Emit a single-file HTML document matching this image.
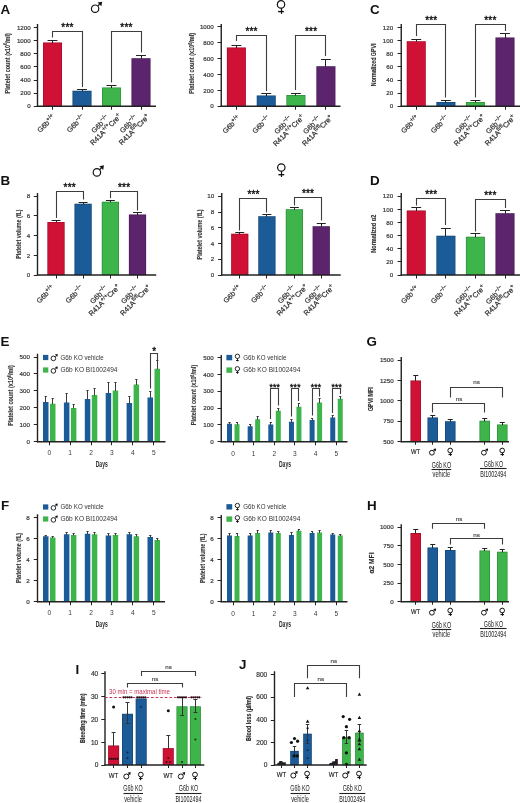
<!DOCTYPE html>
<html><head><meta charset="utf-8"><style>
html,body{margin:0;padding:0;background:#fff;}
svg{display:block;font-family:"Liberation Sans", sans-serif;filter:blur(0.3px);}
</style></head><body>
<svg width="520" height="803" viewBox="0 0 520 803">
<rect x="0" y="0" width="520" height="803" fill="#fff"/>
<line x1="37.50" y1="24.00" x2="37.50" y2="106.85" stroke="#222" stroke-width="1.4" />
<line x1="33.80" y1="106.50" x2="37.50" y2="106.50" stroke="#222" stroke-width="1.0" />
<text x="30.7" y="108.482" font-size="6.2" text-anchor="end" fill="#333" font-weight="normal" stroke="#333" stroke-width="0.18">0</text>
<line x1="33.80" y1="93.50" x2="37.50" y2="93.50" stroke="#222" stroke-width="1.0" />
<text x="30.7" y="95.357" font-size="6.2" text-anchor="end" fill="#333" font-weight="normal" stroke="#333" stroke-width="0.18">200</text>
<line x1="33.80" y1="80.50" x2="37.50" y2="80.50" stroke="#222" stroke-width="1.0" />
<text x="30.7" y="82.232" font-size="6.2" text-anchor="end" fill="#333" font-weight="normal" stroke="#333" stroke-width="0.18">400</text>
<line x1="33.80" y1="66.50" x2="37.50" y2="66.50" stroke="#222" stroke-width="1.0" />
<text x="30.7" y="69.107" font-size="6.2" text-anchor="end" fill="#333" font-weight="normal" stroke="#333" stroke-width="0.18">600</text>
<line x1="33.80" y1="53.50" x2="37.50" y2="53.50" stroke="#222" stroke-width="1.0" />
<text x="30.7" y="55.982" font-size="6.2" text-anchor="end" fill="#333" font-weight="normal" stroke="#333" stroke-width="0.18">800</text>
<line x1="33.80" y1="40.50" x2="37.50" y2="40.50" stroke="#222" stroke-width="1.0" />
<text x="30.7" y="42.857" font-size="6.2" text-anchor="end" fill="#333" font-weight="normal" stroke="#333" stroke-width="0.18">1000</text>
<line x1="33.80" y1="27.50" x2="37.50" y2="27.50" stroke="#222" stroke-width="1.0" />
<text x="30.7" y="29.732" font-size="6.2" text-anchor="end" fill="#333" font-weight="normal" stroke="#333" stroke-width="0.18">1200</text>
<text transform="translate(6.9,63.3) rotate(-90)" x="0" y="2.73" font-size="7.8" text-anchor="middle" fill="#383838" textLength="60.2" lengthAdjust="spacingAndGlyphs" font-weight="bold" stroke="#383838" stroke-width="0.12">Platelet count (x10<tspan font-size="4.8" dy="-2.3">6</tspan><tspan font-size="1" dy="2.3">&#8203;</tspan>/ml)</text>
<circle cx="95.1" cy="8.7" r="3.7" fill="none" stroke="#111" stroke-width="1.2"/>
<line x1="97.72" y1="6.08" x2="99.55" y2="4.25" stroke="#111" stroke-width="1.2" />
<path d="M102.16,1.64 L97.54,2.47 L101.33,6.26 Z" fill="#111"/>
<rect x="43.0" y="42.5" width="19.00" height="63.75" fill="#cf1136" />
<rect x="43.35" y="42.85" width="18.30" height="63.40" fill="none" stroke="#000" stroke-opacity="0.22" stroke-width="0.7"/>
<line x1="52.50" y1="40.00" x2="52.50" y2="43.00" stroke="#222" stroke-width="1.0" />
<line x1="47.56" y1="40.50" x2="57.44" y2="40.50" stroke="#222" stroke-width="1.0" />
<rect x="72.5" y="90.75" width="19.00" height="15.50" fill="#1b5b98" />
<rect x="72.85" y="91.10" width="18.30" height="15.15" fill="none" stroke="#000" stroke-opacity="0.22" stroke-width="0.7"/>
<line x1="82.50" y1="89.00" x2="82.50" y2="91.25" stroke="#222" stroke-width="1.0" />
<line x1="77.06" y1="89.50" x2="86.94" y2="89.50" stroke="#222" stroke-width="1.0" />
<rect x="102.0" y="87.5" width="19.00" height="18.75" fill="#3db54a" />
<rect x="102.35" y="87.85" width="18.30" height="18.40" fill="none" stroke="#000" stroke-opacity="0.22" stroke-width="0.7"/>
<line x1="111.50" y1="85.50" x2="111.50" y2="88.00" stroke="#222" stroke-width="1.0" />
<line x1="106.56" y1="85.50" x2="116.44" y2="85.50" stroke="#222" stroke-width="1.0" />
<rect x="131.5" y="58.25" width="19.00" height="48.00" fill="#5c246c" />
<rect x="131.85" y="58.60" width="18.30" height="47.65" fill="none" stroke="#000" stroke-opacity="0.22" stroke-width="0.7"/>
<line x1="141.50" y1="55.50" x2="141.50" y2="58.75" stroke="#222" stroke-width="1.0" />
<line x1="136.06" y1="55.50" x2="145.94" y2="55.50" stroke="#222" stroke-width="1.0" />
<line x1="36.90" y1="106.25" x2="156.00" y2="106.25" stroke="#222" stroke-width="1.4" />
<line x1="52.50" y1="106.25" x2="52.50" y2="109.75" stroke="#222" stroke-width="1.0" />
<line x1="82.50" y1="106.25" x2="82.50" y2="109.75" stroke="#222" stroke-width="1.0" />
<line x1="111.50" y1="106.25" x2="111.50" y2="109.75" stroke="#222" stroke-width="1.0" />
<line x1="141.50" y1="106.25" x2="141.50" y2="109.75" stroke="#222" stroke-width="1.0" />
<path d="M52.5,37.5 L52.5,31.5 L82.5,31.5 L82.5,87" fill="none" stroke="#3c3c3c" stroke-width="1.1"/>
<text x="67.45" y="30.85" font-size="10" text-anchor="middle" fill="#111" font-weight="normal" font-weight="bold" letter-spacing="0.2" stroke="#111" stroke-width="0.35">***</text>
<path d="M111.5,82.5 L111.5,31.5 L141.5,31.5 L141.5,52.5" fill="none" stroke="#3c3c3c" stroke-width="1.1"/>
<text x="126.45" y="30.85" font-size="10" text-anchor="middle" fill="#111" font-weight="normal" font-weight="bold" letter-spacing="0.2" stroke="#111" stroke-width="0.35">***</text>
<g transform="translate(53.83,115.90) rotate(-45)">
<text x="0" y="2.59" font-size="7.2" text-anchor="end" fill="#2e2e2e" stroke="#2e2e2e" stroke-width="0.22">G6b<tspan font-size="5.6" dy="-2.9">+/+</tspan><tspan font-size="1" dy="2.9">&#8203;</tspan></text>
</g>
<g transform="translate(83.33,115.90) rotate(-45)">
<text x="0" y="2.59" font-size="7.2" text-anchor="end" fill="#2e2e2e" stroke="#2e2e2e" stroke-width="0.22">G6b<tspan font-size="5.6" dy="-2.9">&#8722;/&#8722;</tspan><tspan font-size="1" dy="2.9">&#8203;</tspan></text>
</g>
<g transform="translate(116.33,113.30) rotate(-45)">
<text x="-19.00" y="-1.31" font-size="7.2" text-anchor="middle" fill="#2e2e2e" stroke="#2e2e2e" stroke-width="0.22">G6b<tspan font-size="5.6" dy="-2.9">&#8722;/&#8722;</tspan><tspan font-size="1" dy="2.9">&#8203;</tspan></text>
<text x="-19.00" y="6.49" font-size="7.2" text-anchor="middle" fill="#2e2e2e" stroke="#2e2e2e" stroke-width="0.22">R41A<tspan font-size="5.6" dy="-2.9">+/+</tspan><tspan font-size="1" dy="2.9">&#8203;</tspan>Cre<tspan font-size="5.6" dy="-2.9">+</tspan><tspan font-size="1" dy="2.9">&#8203;</tspan></text>
</g>
<g transform="translate(144.83,113.30) rotate(-45)">
<text x="-19.00" y="-1.31" font-size="7.2" text-anchor="middle" fill="#2e2e2e" stroke="#2e2e2e" stroke-width="0.22">G6b<tspan font-size="5.6" dy="-2.9">&#8722;/&#8722;</tspan><tspan font-size="1" dy="2.9">&#8203;</tspan></text>
<text x="-19.00" y="6.49" font-size="7.2" text-anchor="middle" fill="#2e2e2e" stroke="#2e2e2e" stroke-width="0.22">R41A<tspan font-size="5.6" dy="-2.9">fl/fl</tspan><tspan font-size="1" dy="2.9">&#8203;</tspan>Cre<tspan font-size="5.6" dy="-2.9">+</tspan><tspan font-size="1" dy="2.9">&#8203;</tspan></text>
</g>
<line x1="221.25" y1="24.00" x2="221.25" y2="106.85" stroke="#222" stroke-width="1.4" />
<line x1="217.55" y1="106.50" x2="221.25" y2="106.50" stroke="#222" stroke-width="1.0" />
<text x="213.7" y="108.482" font-size="6.2" text-anchor="end" fill="#333" font-weight="normal" stroke="#333" stroke-width="0.18">0</text>
<line x1="217.55" y1="90.50" x2="221.25" y2="90.50" stroke="#222" stroke-width="1.0" />
<text x="213.7" y="92.582" font-size="6.2" text-anchor="end" fill="#333" font-weight="normal" stroke="#333" stroke-width="0.18">200</text>
<line x1="217.55" y1="74.50" x2="221.25" y2="74.50" stroke="#222" stroke-width="1.0" />
<text x="213.7" y="76.682" font-size="6.2" text-anchor="end" fill="#333" font-weight="normal" stroke="#333" stroke-width="0.18">400</text>
<line x1="217.55" y1="58.50" x2="221.25" y2="58.50" stroke="#222" stroke-width="1.0" />
<text x="213.7" y="60.782" font-size="6.2" text-anchor="end" fill="#333" font-weight="normal" stroke="#333" stroke-width="0.18">600</text>
<line x1="217.55" y1="42.50" x2="221.25" y2="42.50" stroke="#222" stroke-width="1.0" />
<text x="213.7" y="44.882" font-size="6.2" text-anchor="end" fill="#333" font-weight="normal" stroke="#333" stroke-width="0.18">800</text>
<line x1="217.55" y1="26.50" x2="221.25" y2="26.50" stroke="#222" stroke-width="1.0" />
<text x="213.7" y="28.982" font-size="6.2" text-anchor="end" fill="#333" font-weight="normal" stroke="#333" stroke-width="0.18">1000</text>
<text transform="translate(191.4,63.3) rotate(-90)" x="0" y="2.73" font-size="7.8" text-anchor="middle" fill="#383838" textLength="61" lengthAdjust="spacingAndGlyphs" font-weight="bold" stroke="#383838" stroke-width="0.12">Platelet count (x10<tspan font-size="4.8" dy="-2.3">6</tspan><tspan font-size="1" dy="2.3">&#8203;</tspan>/ml)</text>
<circle cx="281" cy="4.4" r="3.7" fill="none" stroke="#111" stroke-width="1.2"/>
<line x1="281.50" y1="8.10" x2="281.50" y2="13.90" stroke="#111" stroke-width="1.2" />
<line x1="278.10" y1="11.58" x2="283.90" y2="11.58" stroke="#111" stroke-width="1.38" />
<rect x="226.9" y="47.5" width="19.00" height="58.75" fill="#cf1136" />
<rect x="227.25" y="47.85" width="18.30" height="58.40" fill="none" stroke="#000" stroke-opacity="0.22" stroke-width="0.7"/>
<line x1="236.50" y1="45.00" x2="236.50" y2="48.00" stroke="#222" stroke-width="1.0" />
<line x1="231.46" y1="45.50" x2="241.34" y2="45.50" stroke="#222" stroke-width="1.0" />
<rect x="256.75" y="95.5" width="19.00" height="10.75" fill="#1b5b98" />
<rect x="257.10" y="95.85" width="18.30" height="10.40" fill="none" stroke="#000" stroke-opacity="0.22" stroke-width="0.7"/>
<line x1="266.50" y1="93.50" x2="266.50" y2="96.00" stroke="#222" stroke-width="1.0" />
<line x1="261.31" y1="93.50" x2="271.19" y2="93.50" stroke="#222" stroke-width="1.0" />
<rect x="286.4" y="95" width="19.00" height="11.25" fill="#3db54a" />
<rect x="286.75" y="95.35" width="18.30" height="10.90" fill="none" stroke="#000" stroke-opacity="0.22" stroke-width="0.7"/>
<line x1="295.50" y1="93.00" x2="295.50" y2="95.50" stroke="#222" stroke-width="1.0" />
<line x1="290.96" y1="93.50" x2="300.84" y2="93.50" stroke="#222" stroke-width="1.0" />
<rect x="316.4" y="66.25" width="19.00" height="40.00" fill="#5c246c" />
<rect x="316.75" y="66.60" width="18.30" height="39.65" fill="none" stroke="#000" stroke-opacity="0.22" stroke-width="0.7"/>
<line x1="325.50" y1="59.50" x2="325.50" y2="66.75" stroke="#222" stroke-width="1.0" />
<line x1="320.96" y1="59.50" x2="330.84" y2="59.50" stroke="#222" stroke-width="1.0" />
<line x1="220.65" y1="106.25" x2="340.50" y2="106.25" stroke="#222" stroke-width="1.4" />
<line x1="236.50" y1="106.25" x2="236.50" y2="109.75" stroke="#222" stroke-width="1.0" />
<line x1="266.50" y1="106.25" x2="266.50" y2="109.75" stroke="#222" stroke-width="1.0" />
<line x1="295.50" y1="106.25" x2="295.50" y2="109.75" stroke="#222" stroke-width="1.0" />
<line x1="325.50" y1="106.25" x2="325.50" y2="109.75" stroke="#222" stroke-width="1.0" />
<path d="M236.5,41 L236.5,35.5 L266.5,35.5 L266.5,91" fill="none" stroke="#3c3c3c" stroke-width="1.1"/>
<text x="251.52499999999998" y="35.1" font-size="10" text-anchor="middle" fill="#111" font-weight="normal" font-weight="bold" letter-spacing="0.2" stroke="#111" stroke-width="0.35">***</text>
<path d="M295.5,90 L295.5,35.5 L325.5,35.5 L325.5,56" fill="none" stroke="#3c3c3c" stroke-width="1.1"/>
<text x="311.09999999999997" y="35.1" font-size="10" text-anchor="middle" fill="#111" font-weight="normal" font-weight="bold" letter-spacing="0.2" stroke="#111" stroke-width="0.35">***</text>
<g transform="translate(238.93,116.90) rotate(-45)">
<text x="0" y="2.59" font-size="7.2" text-anchor="end" fill="#2e2e2e" stroke="#2e2e2e" stroke-width="0.22">G6b<tspan font-size="5.6" dy="-2.9">+/+</tspan><tspan font-size="1" dy="2.9">&#8203;</tspan></text>
</g>
<g transform="translate(268.83,116.90) rotate(-45)">
<text x="0" y="2.59" font-size="7.2" text-anchor="end" fill="#2e2e2e" stroke="#2e2e2e" stroke-width="0.22">G6b<tspan font-size="5.6" dy="-2.9">&#8722;/&#8722;</tspan><tspan font-size="1" dy="2.9">&#8203;</tspan></text>
</g>
<g transform="translate(299.23,114.30) rotate(-45)">
<text x="-19.00" y="-1.31" font-size="7.2" text-anchor="middle" fill="#2e2e2e" stroke="#2e2e2e" stroke-width="0.22">G6b<tspan font-size="5.6" dy="-2.9">&#8722;/&#8722;</tspan><tspan font-size="1" dy="2.9">&#8203;</tspan></text>
<text x="-19.00" y="6.49" font-size="7.2" text-anchor="middle" fill="#2e2e2e" stroke="#2e2e2e" stroke-width="0.22">R41A<tspan font-size="5.6" dy="-2.9">+/+</tspan><tspan font-size="1" dy="2.9">&#8203;</tspan>Cre<tspan font-size="5.6" dy="-2.9">+</tspan><tspan font-size="1" dy="2.9">&#8203;</tspan></text>
</g>
<g transform="translate(328.03,114.30) rotate(-45)">
<text x="-19.00" y="-1.31" font-size="7.2" text-anchor="middle" fill="#2e2e2e" stroke="#2e2e2e" stroke-width="0.22">G6b<tspan font-size="5.6" dy="-2.9">&#8722;/&#8722;</tspan><tspan font-size="1" dy="2.9">&#8203;</tspan></text>
<text x="-19.00" y="6.49" font-size="7.2" text-anchor="middle" fill="#2e2e2e" stroke="#2e2e2e" stroke-width="0.22">R41A<tspan font-size="5.6" dy="-2.9">fl/fl</tspan><tspan font-size="1" dy="2.9">&#8203;</tspan>Cre<tspan font-size="5.6" dy="-2.9">+</tspan><tspan font-size="1" dy="2.9">&#8203;</tspan></text>
</g>
<line x1="401.25" y1="24.00" x2="401.25" y2="106.85" stroke="#222" stroke-width="1.4" />
<line x1="397.55" y1="106.50" x2="401.25" y2="106.50" stroke="#222" stroke-width="1.0" />
<text x="393.2" y="108.482" font-size="6.2" text-anchor="end" fill="#333" font-weight="normal" stroke="#333" stroke-width="0.18">0</text>
<line x1="397.55" y1="93.50" x2="401.25" y2="93.50" stroke="#222" stroke-width="1.0" />
<text x="393.2" y="95.357" font-size="6.2" text-anchor="end" fill="#333" font-weight="normal" stroke="#333" stroke-width="0.18">20</text>
<line x1="397.55" y1="80.50" x2="401.25" y2="80.50" stroke="#222" stroke-width="1.0" />
<text x="393.2" y="82.232" font-size="6.2" text-anchor="end" fill="#333" font-weight="normal" stroke="#333" stroke-width="0.18">40</text>
<line x1="397.55" y1="66.50" x2="401.25" y2="66.50" stroke="#222" stroke-width="1.0" />
<text x="393.2" y="69.107" font-size="6.2" text-anchor="end" fill="#333" font-weight="normal" stroke="#333" stroke-width="0.18">60</text>
<line x1="397.55" y1="53.50" x2="401.25" y2="53.50" stroke="#222" stroke-width="1.0" />
<text x="393.2" y="55.982" font-size="6.2" text-anchor="end" fill="#333" font-weight="normal" stroke="#333" stroke-width="0.18">80</text>
<line x1="397.55" y1="40.50" x2="401.25" y2="40.50" stroke="#222" stroke-width="1.0" />
<text x="393.2" y="42.857" font-size="6.2" text-anchor="end" fill="#333" font-weight="normal" stroke="#333" stroke-width="0.18">100</text>
<line x1="397.55" y1="27.50" x2="401.25" y2="27.50" stroke="#222" stroke-width="1.0" />
<text x="393.2" y="29.732" font-size="6.2" text-anchor="end" fill="#333" font-weight="normal" stroke="#333" stroke-width="0.18">120</text>
<text transform="translate(374.0,64.85) rotate(-90)" x="0" y="2.45" font-size="7.0" text-anchor="middle" fill="#303030" textLength="42.7" lengthAdjust="spacingAndGlyphs" font-weight="bold" stroke="#303030" stroke-width="0.12">Normalized GPVI</text>
<rect x="406.75" y="41.25" width="19.00" height="65.00" fill="#cf1136" />
<rect x="407.10" y="41.60" width="18.30" height="64.65" fill="none" stroke="#000" stroke-opacity="0.22" stroke-width="0.7"/>
<line x1="416.50" y1="39.25" x2="416.50" y2="41.75" stroke="#222" stroke-width="1.0" />
<line x1="411.31" y1="39.50" x2="421.19" y2="39.50" stroke="#222" stroke-width="1.0" />
<rect x="436.4" y="102" width="19.00" height="4.25" fill="#1b5b98" />
<rect x="436.75" y="102.35" width="18.30" height="3.90" fill="none" stroke="#000" stroke-opacity="0.22" stroke-width="0.7"/>
<line x1="445.50" y1="100.00" x2="445.50" y2="102.50" stroke="#222" stroke-width="1.0" />
<line x1="440.96" y1="100.50" x2="450.84" y2="100.50" stroke="#222" stroke-width="1.0" />
<rect x="465.9" y="102" width="19.00" height="4.25" fill="#3db54a" />
<rect x="466.25" y="102.35" width="18.30" height="3.90" fill="none" stroke="#000" stroke-opacity="0.22" stroke-width="0.7"/>
<line x1="475.50" y1="100.75" x2="475.50" y2="102.50" stroke="#222" stroke-width="1.0" />
<line x1="470.46" y1="100.50" x2="480.34" y2="100.50" stroke="#222" stroke-width="1.0" />
<rect x="495.5" y="37.5" width="19.00" height="68.75" fill="#5c246c" />
<rect x="495.85" y="37.85" width="18.30" height="68.40" fill="none" stroke="#000" stroke-opacity="0.22" stroke-width="0.7"/>
<line x1="505.50" y1="33.75" x2="505.50" y2="38.00" stroke="#222" stroke-width="1.0" />
<line x1="500.06" y1="33.50" x2="509.94" y2="33.50" stroke="#222" stroke-width="1.0" />
<line x1="400.65" y1="106.25" x2="520.00" y2="106.25" stroke="#222" stroke-width="1.4" />
<line x1="416.50" y1="106.25" x2="416.50" y2="109.75" stroke="#222" stroke-width="1.0" />
<line x1="445.50" y1="106.25" x2="445.50" y2="109.75" stroke="#222" stroke-width="1.0" />
<line x1="475.50" y1="106.25" x2="475.50" y2="109.75" stroke="#222" stroke-width="1.0" />
<line x1="505.50" y1="106.25" x2="505.50" y2="109.75" stroke="#222" stroke-width="1.0" />
<path d="M416.5,36 L416.5,24.5 L445.5,24.5 L445.5,97.5" fill="none" stroke="#3c3c3c" stroke-width="1.1"/>
<text x="431.275" y="23.85" font-size="10" text-anchor="middle" fill="#111" font-weight="normal" font-weight="bold" letter-spacing="0.2" stroke="#111" stroke-width="0.35">***</text>
<path d="M475.5,97.5 L475.5,24.5 L505.5,24.5 L505.5,31" fill="none" stroke="#3c3c3c" stroke-width="1.1"/>
<text x="490.4" y="23.85" font-size="10" text-anchor="middle" fill="#111" font-weight="normal" font-weight="bold" letter-spacing="0.2" stroke="#111" stroke-width="0.35">***</text>
<g transform="translate(417.58,116.60) rotate(-45)">
<text x="0" y="2.59" font-size="7.2" text-anchor="end" fill="#2e2e2e" stroke="#2e2e2e" stroke-width="0.22">G6b<tspan font-size="5.6" dy="-2.9">+/+</tspan><tspan font-size="1" dy="2.9">&#8203;</tspan></text>
</g>
<g transform="translate(447.23,116.60) rotate(-45)">
<text x="0" y="2.59" font-size="7.2" text-anchor="end" fill="#2e2e2e" stroke="#2e2e2e" stroke-width="0.22">G6b<tspan font-size="5.6" dy="-2.9">&#8722;/&#8722;</tspan><tspan font-size="1" dy="2.9">&#8203;</tspan></text>
</g>
<g transform="translate(480.03,114.00) rotate(-45)">
<text x="-19.00" y="-1.31" font-size="7.2" text-anchor="middle" fill="#2e2e2e" stroke="#2e2e2e" stroke-width="0.22">G6b<tspan font-size="5.6" dy="-2.9">&#8722;/&#8722;</tspan><tspan font-size="1" dy="2.9">&#8203;</tspan></text>
<text x="-19.00" y="6.49" font-size="7.2" text-anchor="middle" fill="#2e2e2e" stroke="#2e2e2e" stroke-width="0.22">R41A<tspan font-size="5.6" dy="-2.9">+/+</tspan><tspan font-size="1" dy="2.9">&#8203;</tspan>Cre<tspan font-size="5.6" dy="-2.9">+</tspan><tspan font-size="1" dy="2.9">&#8203;</tspan></text>
</g>
<g transform="translate(510.83,114.00) rotate(-45)">
<text x="-19.00" y="-1.31" font-size="7.2" text-anchor="middle" fill="#2e2e2e" stroke="#2e2e2e" stroke-width="0.22">G6b<tspan font-size="5.6" dy="-2.9">&#8722;/&#8722;</tspan><tspan font-size="1" dy="2.9">&#8203;</tspan></text>
<text x="-19.00" y="6.49" font-size="7.2" text-anchor="middle" fill="#2e2e2e" stroke="#2e2e2e" stroke-width="0.22">R41A<tspan font-size="5.6" dy="-2.9">fl/fl</tspan><tspan font-size="1" dy="2.9">&#8203;</tspan>Cre<tspan font-size="5.6" dy="-2.9">+</tspan><tspan font-size="1" dy="2.9">&#8203;</tspan></text>
</g>
<line x1="37.50" y1="193.00" x2="37.50" y2="275.60" stroke="#222" stroke-width="1.4" />
<line x1="33.80" y1="275.50" x2="37.50" y2="275.50" stroke="#222" stroke-width="1.0" />
<text x="30.2" y="277.232" font-size="6.2" text-anchor="end" fill="#333" font-weight="normal" stroke="#333" stroke-width="0.18">0</text>
<line x1="33.80" y1="255.50" x2="37.50" y2="255.50" stroke="#222" stroke-width="1.0" />
<text x="30.2" y="257.54200000000003" font-size="6.2" text-anchor="end" fill="#333" font-weight="normal" stroke="#333" stroke-width="0.18">2</text>
<line x1="33.80" y1="235.50" x2="37.50" y2="235.50" stroke="#222" stroke-width="1.0" />
<text x="30.2" y="237.852" font-size="6.2" text-anchor="end" fill="#333" font-weight="normal" stroke="#333" stroke-width="0.18">4</text>
<line x1="33.80" y1="215.50" x2="37.50" y2="215.50" stroke="#222" stroke-width="1.0" />
<text x="30.2" y="218.162" font-size="6.2" text-anchor="end" fill="#333" font-weight="normal" stroke="#333" stroke-width="0.18">6</text>
<line x1="33.80" y1="196.50" x2="37.50" y2="196.50" stroke="#222" stroke-width="1.0" />
<text x="30.2" y="198.472" font-size="6.2" text-anchor="end" fill="#333" font-weight="normal" stroke="#333" stroke-width="0.18">8</text>
<text transform="translate(18.1,234.1) rotate(-90)" x="0" y="2.73" font-size="7.8" text-anchor="middle" fill="#383838" textLength="49.4" lengthAdjust="spacingAndGlyphs" font-weight="bold" stroke="#383838" stroke-width="0.12">Platelet volume (fL)</text>
<circle cx="96.9" cy="172.4" r="3.7" fill="none" stroke="#111" stroke-width="1.2"/>
<line x1="99.52" y1="169.78" x2="101.35" y2="167.95" stroke="#111" stroke-width="1.2" />
<path d="M103.96,165.34 L99.34,166.17 L103.13,169.96 Z" fill="#111"/>
<rect x="47.4" y="222" width="17.20" height="53.00" fill="#cf1136" />
<rect x="47.75" y="222.35" width="16.50" height="52.65" fill="none" stroke="#000" stroke-opacity="0.22" stroke-width="0.7"/>
<line x1="56.50" y1="220.50" x2="56.50" y2="222.50" stroke="#222" stroke-width="1.0" />
<line x1="51.53" y1="220.50" x2="60.47" y2="220.50" stroke="#222" stroke-width="1.0" />
<rect x="74.5" y="203.75" width="17.20" height="71.25" fill="#1b5b98" />
<rect x="74.85" y="204.10" width="16.50" height="70.90" fill="none" stroke="#000" stroke-opacity="0.22" stroke-width="0.7"/>
<line x1="83.50" y1="202.00" x2="83.50" y2="204.25" stroke="#222" stroke-width="1.0" />
<line x1="78.63" y1="202.50" x2="87.57" y2="202.50" stroke="#222" stroke-width="1.0" />
<rect x="101.80000000000001" y="201.75" width="17.20" height="73.25" fill="#3db54a" />
<rect x="102.15" y="202.10" width="16.50" height="72.90" fill="none" stroke="#000" stroke-opacity="0.22" stroke-width="0.7"/>
<line x1="110.50" y1="200.50" x2="110.50" y2="202.25" stroke="#222" stroke-width="1.0" />
<line x1="105.93" y1="200.50" x2="114.87" y2="200.50" stroke="#222" stroke-width="1.0" />
<rect x="128.9" y="214.5" width="17.20" height="60.50" fill="#5c246c" />
<rect x="129.25" y="214.85" width="16.50" height="60.15" fill="none" stroke="#000" stroke-opacity="0.22" stroke-width="0.7"/>
<line x1="137.50" y1="212.50" x2="137.50" y2="215.00" stroke="#222" stroke-width="1.0" />
<line x1="133.03" y1="212.50" x2="141.97" y2="212.50" stroke="#222" stroke-width="1.0" />
<line x1="36.90" y1="275.00" x2="156.25" y2="275.00" stroke="#222" stroke-width="1.4" />
<line x1="56.50" y1="275.00" x2="56.50" y2="278.50" stroke="#222" stroke-width="1.0" />
<line x1="83.50" y1="275.00" x2="83.50" y2="278.50" stroke="#222" stroke-width="1.0" />
<line x1="110.50" y1="275.00" x2="110.50" y2="278.50" stroke="#222" stroke-width="1.0" />
<line x1="137.50" y1="275.00" x2="137.50" y2="278.50" stroke="#222" stroke-width="1.0" />
<path d="M56.5,218 L56.5,191.5 L83.5,191.5 L83.5,199.5" fill="none" stroke="#3c3c3c" stroke-width="1.1"/>
<text x="69.75" y="190.85" font-size="10" text-anchor="middle" fill="#111" font-weight="normal" font-weight="bold" letter-spacing="0.2" stroke="#111" stroke-width="0.35">***</text>
<path d="M110.5,198 L110.5,191.5 L137.5,191.5 L137.5,210.5" fill="none" stroke="#3c3c3c" stroke-width="1.1"/>
<text x="124.15" y="190.85" font-size="10" text-anchor="middle" fill="#111" font-weight="normal" font-weight="bold" letter-spacing="0.2" stroke="#111" stroke-width="0.35">***</text>
<g transform="translate(52.93,286.65) rotate(-45)">
<text x="0" y="2.59" font-size="7.2" text-anchor="end" fill="#2e2e2e" stroke="#2e2e2e" stroke-width="0.22">G6b<tspan font-size="5.6" dy="-2.9">+/+</tspan><tspan font-size="1" dy="2.9">&#8203;</tspan></text>
</g>
<g transform="translate(81.93,286.65) rotate(-45)">
<text x="0" y="2.59" font-size="7.2" text-anchor="end" fill="#2e2e2e" stroke="#2e2e2e" stroke-width="0.22">G6b<tspan font-size="5.6" dy="-2.9">&#8722;/&#8722;</tspan><tspan font-size="1" dy="2.9">&#8203;</tspan></text>
</g>
<g transform="translate(114.93,284.05) rotate(-45)">
<text x="-19.00" y="-1.31" font-size="7.2" text-anchor="middle" fill="#2e2e2e" stroke="#2e2e2e" stroke-width="0.22">G6b<tspan font-size="5.6" dy="-2.9">&#8722;/&#8722;</tspan><tspan font-size="1" dy="2.9">&#8203;</tspan></text>
<text x="-19.00" y="6.49" font-size="7.2" text-anchor="middle" fill="#2e2e2e" stroke="#2e2e2e" stroke-width="0.22">R41A<tspan font-size="5.6" dy="-2.9">+/+</tspan><tspan font-size="1" dy="2.9">&#8203;</tspan>Cre<tspan font-size="5.6" dy="-2.9">+</tspan><tspan font-size="1" dy="2.9">&#8203;</tspan></text>
</g>
<g transform="translate(146.03,284.05) rotate(-45)">
<text x="-19.00" y="-1.31" font-size="7.2" text-anchor="middle" fill="#2e2e2e" stroke="#2e2e2e" stroke-width="0.22">G6b<tspan font-size="5.6" dy="-2.9">&#8722;/&#8722;</tspan><tspan font-size="1" dy="2.9">&#8203;</tspan></text>
<text x="-19.00" y="6.49" font-size="7.2" text-anchor="middle" fill="#2e2e2e" stroke="#2e2e2e" stroke-width="0.22">R41A<tspan font-size="5.6" dy="-2.9">fl/fl</tspan><tspan font-size="1" dy="2.9">&#8203;</tspan>Cre<tspan font-size="5.6" dy="-2.9">+</tspan><tspan font-size="1" dy="2.9">&#8203;</tspan></text>
</g>
<line x1="221.75" y1="193.00" x2="221.75" y2="275.60" stroke="#222" stroke-width="1.4" />
<line x1="218.05" y1="275.50" x2="221.75" y2="275.50" stroke="#222" stroke-width="1.0" />
<text x="214.2" y="277.232" font-size="6.2" text-anchor="end" fill="#333" font-weight="normal" stroke="#333" stroke-width="0.18">0</text>
<line x1="218.05" y1="259.50" x2="221.75" y2="259.50" stroke="#222" stroke-width="1.0" />
<text x="214.2" y="261.482" font-size="6.2" text-anchor="end" fill="#333" font-weight="normal" stroke="#333" stroke-width="0.18">2</text>
<line x1="218.05" y1="243.50" x2="221.75" y2="243.50" stroke="#222" stroke-width="1.0" />
<text x="214.2" y="245.732" font-size="6.2" text-anchor="end" fill="#333" font-weight="normal" stroke="#333" stroke-width="0.18">4</text>
<line x1="218.05" y1="227.50" x2="221.75" y2="227.50" stroke="#222" stroke-width="1.0" />
<text x="214.2" y="229.982" font-size="6.2" text-anchor="end" fill="#333" font-weight="normal" stroke="#333" stroke-width="0.18">6</text>
<line x1="218.05" y1="212.50" x2="221.75" y2="212.50" stroke="#222" stroke-width="1.0" />
<text x="214.2" y="214.232" font-size="6.2" text-anchor="end" fill="#333" font-weight="normal" stroke="#333" stroke-width="0.18">8</text>
<line x1="218.05" y1="196.50" x2="221.75" y2="196.50" stroke="#222" stroke-width="1.0" />
<text x="214.2" y="198.482" font-size="6.2" text-anchor="end" fill="#333" font-weight="normal" stroke="#333" stroke-width="0.18">10</text>
<text transform="translate(198.8,234.4) rotate(-90)" x="0" y="2.73" font-size="7.8" text-anchor="middle" fill="#383838" textLength="50" lengthAdjust="spacingAndGlyphs" font-weight="bold" stroke="#383838" stroke-width="0.12">Platelet volume (fL)</text>
<circle cx="281.3" cy="167.5" r="3.7" fill="none" stroke="#111" stroke-width="1.2"/>
<line x1="281.50" y1="171.20" x2="281.50" y2="177.00" stroke="#111" stroke-width="1.2" />
<line x1="278.40" y1="174.68" x2="284.20" y2="174.68" stroke="#111" stroke-width="1.38" />
<rect x="231.15" y="233.75" width="17.20" height="41.25" fill="#cf1136" />
<rect x="231.50" y="234.10" width="16.50" height="40.90" fill="none" stroke="#000" stroke-opacity="0.22" stroke-width="0.7"/>
<line x1="239.50" y1="232.50" x2="239.50" y2="234.25" stroke="#222" stroke-width="1.0" />
<line x1="235.28" y1="232.50" x2="244.22" y2="232.50" stroke="#222" stroke-width="1.0" />
<rect x="258.29999999999995" y="216.25" width="17.20" height="58.75" fill="#1b5b98" />
<rect x="258.65" y="216.60" width="16.50" height="58.40" fill="none" stroke="#000" stroke-opacity="0.22" stroke-width="0.7"/>
<line x1="266.50" y1="214.50" x2="266.50" y2="216.75" stroke="#222" stroke-width="1.0" />
<line x1="262.43" y1="214.50" x2="271.37" y2="214.50" stroke="#222" stroke-width="1.0" />
<rect x="285.79999999999995" y="209.25" width="17.20" height="65.75" fill="#3db54a" />
<rect x="286.15" y="209.60" width="16.50" height="65.40" fill="none" stroke="#000" stroke-opacity="0.22" stroke-width="0.7"/>
<line x1="294.50" y1="207.50" x2="294.50" y2="209.75" stroke="#222" stroke-width="1.0" />
<line x1="289.93" y1="207.50" x2="298.87" y2="207.50" stroke="#222" stroke-width="1.0" />
<rect x="312.65" y="226.25" width="17.20" height="48.75" fill="#5c246c" />
<rect x="313.00" y="226.60" width="16.50" height="48.40" fill="none" stroke="#000" stroke-opacity="0.22" stroke-width="0.7"/>
<line x1="321.50" y1="223.00" x2="321.50" y2="226.75" stroke="#222" stroke-width="1.0" />
<line x1="316.78" y1="223.50" x2="325.72" y2="223.50" stroke="#222" stroke-width="1.0" />
<line x1="221.15" y1="275.00" x2="340.75" y2="275.00" stroke="#222" stroke-width="1.4" />
<line x1="239.50" y1="275.00" x2="239.50" y2="278.50" stroke="#222" stroke-width="1.0" />
<line x1="266.50" y1="275.00" x2="266.50" y2="278.50" stroke="#222" stroke-width="1.0" />
<line x1="294.50" y1="275.00" x2="294.50" y2="278.50" stroke="#222" stroke-width="1.0" />
<line x1="321.50" y1="275.00" x2="321.50" y2="278.50" stroke="#222" stroke-width="1.0" />
<path d="M239.5,230.5 L239.5,198.5 L266.5,198.5 L266.5,212.5" fill="none" stroke="#3c3c3c" stroke-width="1.1"/>
<text x="253.52499999999998" y="197.6" font-size="10" text-anchor="middle" fill="#111" font-weight="normal" font-weight="bold" letter-spacing="0.2" stroke="#111" stroke-width="0.35">***</text>
<path d="M294.5,205.5 L294.5,197.5 L321.5,197.5 L321.5,220.5" fill="none" stroke="#3c3c3c" stroke-width="1.1"/>
<text x="308.025" y="197.1" font-size="10" text-anchor="middle" fill="#111" font-weight="normal" font-weight="bold" letter-spacing="0.2" stroke="#111" stroke-width="0.35">***</text>
<g transform="translate(239.83,286.45) rotate(-45)">
<text x="0" y="2.59" font-size="7.2" text-anchor="end" fill="#2e2e2e" stroke="#2e2e2e" stroke-width="0.22">G6b<tspan font-size="5.6" dy="-2.9">+/+</tspan><tspan font-size="1" dy="2.9">&#8203;</tspan></text>
</g>
<g transform="translate(267.53,286.45) rotate(-45)">
<text x="0" y="2.59" font-size="7.2" text-anchor="end" fill="#2e2e2e" stroke="#2e2e2e" stroke-width="0.22">G6b<tspan font-size="5.6" dy="-2.9">&#8722;/&#8722;</tspan><tspan font-size="1" dy="2.9">&#8203;</tspan></text>
</g>
<g transform="translate(302.73,283.85) rotate(-45)">
<text x="-19.00" y="-1.31" font-size="7.2" text-anchor="middle" fill="#2e2e2e" stroke="#2e2e2e" stroke-width="0.22">G6b<tspan font-size="5.6" dy="-2.9">&#8722;/&#8722;</tspan><tspan font-size="1" dy="2.9">&#8203;</tspan></text>
<text x="-19.00" y="6.49" font-size="7.2" text-anchor="middle" fill="#2e2e2e" stroke="#2e2e2e" stroke-width="0.22">R41A<tspan font-size="5.6" dy="-2.9">+/+</tspan><tspan font-size="1" dy="2.9">&#8203;</tspan>Cre<tspan font-size="5.6" dy="-2.9">+</tspan><tspan font-size="1" dy="2.9">&#8203;</tspan></text>
</g>
<g transform="translate(329.53,283.85) rotate(-45)">
<text x="-19.00" y="-1.31" font-size="7.2" text-anchor="middle" fill="#2e2e2e" stroke="#2e2e2e" stroke-width="0.22">G6b<tspan font-size="5.6" dy="-2.9">&#8722;/&#8722;</tspan><tspan font-size="1" dy="2.9">&#8203;</tspan></text>
<text x="-19.00" y="6.49" font-size="7.2" text-anchor="middle" fill="#2e2e2e" stroke="#2e2e2e" stroke-width="0.22">R41A<tspan font-size="5.6" dy="-2.9">fl/fl</tspan><tspan font-size="1" dy="2.9">&#8203;</tspan>Cre<tspan font-size="5.6" dy="-2.9">+</tspan><tspan font-size="1" dy="2.9">&#8203;</tspan></text>
</g>
<line x1="401.25" y1="193.00" x2="401.25" y2="275.60" stroke="#222" stroke-width="1.4" />
<line x1="397.55" y1="275.50" x2="401.25" y2="275.50" stroke="#222" stroke-width="1.0" />
<text x="393.2" y="277.232" font-size="6.2" text-anchor="end" fill="#333" font-weight="normal" stroke="#333" stroke-width="0.18">0</text>
<line x1="397.55" y1="261.50" x2="401.25" y2="261.50" stroke="#222" stroke-width="1.0" />
<text x="393.2" y="264.107" font-size="6.2" text-anchor="end" fill="#333" font-weight="normal" stroke="#333" stroke-width="0.18">20</text>
<line x1="397.55" y1="248.50" x2="401.25" y2="248.50" stroke="#222" stroke-width="1.0" />
<text x="393.2" y="250.982" font-size="6.2" text-anchor="end" fill="#333" font-weight="normal" stroke="#333" stroke-width="0.18">40</text>
<line x1="397.55" y1="235.50" x2="401.25" y2="235.50" stroke="#222" stroke-width="1.0" />
<text x="393.2" y="237.857" font-size="6.2" text-anchor="end" fill="#333" font-weight="normal" stroke="#333" stroke-width="0.18">60</text>
<line x1="397.55" y1="222.50" x2="401.25" y2="222.50" stroke="#222" stroke-width="1.0" />
<text x="393.2" y="224.732" font-size="6.2" text-anchor="end" fill="#333" font-weight="normal" stroke="#333" stroke-width="0.18">80</text>
<line x1="397.55" y1="209.50" x2="401.25" y2="209.50" stroke="#222" stroke-width="1.0" />
<text x="393.2" y="211.607" font-size="6.2" text-anchor="end" fill="#333" font-weight="normal" stroke="#333" stroke-width="0.18">100</text>
<line x1="397.55" y1="196.50" x2="401.25" y2="196.50" stroke="#222" stroke-width="1.0" />
<text x="393.2" y="198.482" font-size="6.2" text-anchor="end" fill="#333" font-weight="normal" stroke="#333" stroke-width="0.18">120</text>
<text transform="translate(373.6,233.75) rotate(-90)" x="0" y="2.45" font-size="7.0" text-anchor="middle" fill="#303030" textLength="38" lengthAdjust="spacingAndGlyphs" font-weight="bold" stroke="#303030" stroke-width="0.12">Normalized &#945;2</text>
<rect x="406.75" y="210.5" width="19.00" height="64.50" fill="#cf1136" />
<rect x="407.10" y="210.85" width="18.30" height="64.15" fill="none" stroke="#000" stroke-opacity="0.22" stroke-width="0.7"/>
<line x1="416.50" y1="207.50" x2="416.50" y2="211.00" stroke="#222" stroke-width="1.0" />
<line x1="411.31" y1="207.50" x2="421.19" y2="207.50" stroke="#222" stroke-width="1.0" />
<rect x="436.4" y="235.75" width="19.00" height="39.25" fill="#1b5b98" />
<rect x="436.75" y="236.10" width="18.30" height="38.90" fill="none" stroke="#000" stroke-opacity="0.22" stroke-width="0.7"/>
<line x1="445.50" y1="228.00" x2="445.50" y2="236.25" stroke="#222" stroke-width="1.0" />
<line x1="440.96" y1="228.50" x2="450.84" y2="228.50" stroke="#222" stroke-width="1.0" />
<rect x="465.9" y="236.75" width="19.00" height="38.25" fill="#3db54a" />
<rect x="466.25" y="237.10" width="18.30" height="37.90" fill="none" stroke="#000" stroke-opacity="0.22" stroke-width="0.7"/>
<line x1="475.50" y1="233.25" x2="475.50" y2="237.25" stroke="#222" stroke-width="1.0" />
<line x1="470.46" y1="233.50" x2="480.34" y2="233.50" stroke="#222" stroke-width="1.0" />
<rect x="495.5" y="213.25" width="19.00" height="61.75" fill="#5c246c" />
<rect x="495.85" y="213.60" width="18.30" height="61.40" fill="none" stroke="#000" stroke-opacity="0.22" stroke-width="0.7"/>
<line x1="505.50" y1="210.50" x2="505.50" y2="213.75" stroke="#222" stroke-width="1.0" />
<line x1="500.06" y1="210.50" x2="509.94" y2="210.50" stroke="#222" stroke-width="1.0" />
<line x1="400.65" y1="275.00" x2="520.00" y2="275.00" stroke="#222" stroke-width="1.4" />
<line x1="416.50" y1="275.00" x2="416.50" y2="278.50" stroke="#222" stroke-width="1.0" />
<line x1="445.50" y1="275.00" x2="445.50" y2="278.50" stroke="#222" stroke-width="1.0" />
<line x1="475.50" y1="275.00" x2="475.50" y2="278.50" stroke="#222" stroke-width="1.0" />
<line x1="505.50" y1="275.00" x2="505.50" y2="278.50" stroke="#222" stroke-width="1.0" />
<path d="M416.5,205.5 L416.5,198.5 L445.5,198.5 L445.5,225" fill="none" stroke="#3c3c3c" stroke-width="1.1"/>
<text x="431.275" y="197.85" font-size="10" text-anchor="middle" fill="#111" font-weight="normal" font-weight="bold" letter-spacing="0.2" stroke="#111" stroke-width="0.35">***</text>
<path d="M475.5,231.5 L475.5,199.5 L505.5,199.5 L505.5,208" fill="none" stroke="#3c3c3c" stroke-width="1.1"/>
<text x="490.4" y="198.85" font-size="10" text-anchor="middle" fill="#111" font-weight="normal" font-weight="bold" letter-spacing="0.2" stroke="#111" stroke-width="0.35">***</text>
<g transform="translate(417.58,287.05) rotate(-45)">
<text x="0" y="2.59" font-size="7.2" text-anchor="end" fill="#2e2e2e" stroke="#2e2e2e" stroke-width="0.22">G6b<tspan font-size="5.6" dy="-2.9">+/+</tspan><tspan font-size="1" dy="2.9">&#8203;</tspan></text>
</g>
<g transform="translate(447.23,287.05) rotate(-45)">
<text x="0" y="2.59" font-size="7.2" text-anchor="end" fill="#2e2e2e" stroke="#2e2e2e" stroke-width="0.22">G6b<tspan font-size="5.6" dy="-2.9">&#8722;/&#8722;</tspan><tspan font-size="1" dy="2.9">&#8203;</tspan></text>
</g>
<g transform="translate(480.23,284.45) rotate(-45)">
<text x="-19.00" y="-1.31" font-size="7.2" text-anchor="middle" fill="#2e2e2e" stroke="#2e2e2e" stroke-width="0.22">G6b<tspan font-size="5.6" dy="-2.9">&#8722;/&#8722;</tspan><tspan font-size="1" dy="2.9">&#8203;</tspan></text>
<text x="-19.00" y="6.49" font-size="7.2" text-anchor="middle" fill="#2e2e2e" stroke="#2e2e2e" stroke-width="0.22">R41A<tspan font-size="5.6" dy="-2.9">+/+</tspan><tspan font-size="1" dy="2.9">&#8203;</tspan>Cre<tspan font-size="5.6" dy="-2.9">+</tspan><tspan font-size="1" dy="2.9">&#8203;</tspan></text>
</g>
<g transform="translate(510.83,284.45) rotate(-45)">
<text x="-19.00" y="-1.31" font-size="7.2" text-anchor="middle" fill="#2e2e2e" stroke="#2e2e2e" stroke-width="0.22">G6b<tspan font-size="5.6" dy="-2.9">&#8722;/&#8722;</tspan><tspan font-size="1" dy="2.9">&#8203;</tspan></text>
<text x="-19.00" y="6.49" font-size="7.2" text-anchor="middle" fill="#2e2e2e" stroke="#2e2e2e" stroke-width="0.22">R41A<tspan font-size="5.6" dy="-2.9">fl/fl</tspan><tspan font-size="1" dy="2.9">&#8203;</tspan>Cre<tspan font-size="5.6" dy="-2.9">+</tspan><tspan font-size="1" dy="2.9">&#8203;</tspan></text>
</g>
<line x1="37.50" y1="353.75" x2="37.50" y2="442.35" stroke="#222" stroke-width="1.4" />
<line x1="33.80" y1="441.50" x2="37.50" y2="441.50" stroke="#222" stroke-width="1.0" />
<text x="29.95" y="443.982" font-size="6.2" text-anchor="end" fill="#333" font-weight="normal" stroke="#333" stroke-width="0.18">0</text>
<line x1="33.80" y1="424.50" x2="37.50" y2="424.50" stroke="#222" stroke-width="1.0" />
<text x="29.95" y="427.03200000000004" font-size="6.2" text-anchor="end" fill="#333" font-weight="normal" stroke="#333" stroke-width="0.18">100</text>
<line x1="33.80" y1="407.50" x2="37.50" y2="407.50" stroke="#222" stroke-width="1.0" />
<text x="29.95" y="410.08200000000005" font-size="6.2" text-anchor="end" fill="#333" font-weight="normal" stroke="#333" stroke-width="0.18">200</text>
<line x1="33.80" y1="390.50" x2="37.50" y2="390.50" stroke="#222" stroke-width="1.0" />
<text x="29.95" y="393.132" font-size="6.2" text-anchor="end" fill="#333" font-weight="normal" stroke="#333" stroke-width="0.18">300</text>
<line x1="33.80" y1="373.50" x2="37.50" y2="373.50" stroke="#222" stroke-width="1.0" />
<text x="29.95" y="376.182" font-size="6.2" text-anchor="end" fill="#333" font-weight="normal" stroke="#333" stroke-width="0.18">400</text>
<line x1="33.80" y1="357.50" x2="37.50" y2="357.50" stroke="#222" stroke-width="1.0" />
<text x="29.95" y="359.232" font-size="6.2" text-anchor="end" fill="#333" font-weight="normal" stroke="#333" stroke-width="0.18">500</text>
<text transform="translate(10.6,395.5) rotate(-90)" x="0" y="2.73" font-size="7.8" text-anchor="middle" fill="#383838" textLength="60.5" lengthAdjust="spacingAndGlyphs" font-weight="bold" stroke="#383838" stroke-width="0.12">Platelet count (x10<tspan font-size="4.8" dy="-2.3">6</tspan><tspan font-size="1" dy="2.3">&#8203;</tspan>/ml)</text>
<rect x="43" y="354.9" width="5.30" height="5.20" fill="#1b5b98" />
<circle cx="53.4" cy="358.4" r="2.3" fill="none" stroke="#111" stroke-width="0.9"/>
<line x1="55.03" y1="356.77" x2="56.16" y2="355.64" stroke="#111" stroke-width="0.9" />
<path d="M57.79,354.01 L54.92,354.53 L57.27,356.88 Z" fill="#111"/>
<text x="60.4" y="359.948" font-size="6.8" text-anchor="start" fill="#333" font-weight="normal" textLength="43.2" lengthAdjust="spacingAndGlyphs" >G6b KO vehicle</text>
<rect x="43" y="367.4" width="5.30" height="5.20" fill="#3db54a" />
<circle cx="53.4" cy="370.9" r="2.3" fill="none" stroke="#111" stroke-width="0.9"/>
<line x1="55.03" y1="369.27" x2="56.16" y2="368.14" stroke="#111" stroke-width="0.9" />
<path d="M57.79,366.51 L54.92,367.03 L57.27,369.38 Z" fill="#111"/>
<text x="60.4" y="372.448" font-size="6.8" text-anchor="start" fill="#333" font-weight="normal" textLength="57.1" lengthAdjust="spacingAndGlyphs" >G6b KO BI1002494</text>
<rect x="43.0" y="402" width="5.50" height="39.75" fill="#1b5b98" />
<line x1="45.50" y1="396.25" x2="45.50" y2="402.50" stroke="#3a3a3a" stroke-width="1.0" />
<line x1="44.65" y1="396.50" x2="46.85" y2="396.50" stroke="#3a3a3a" stroke-width="1.0" />
<rect x="50.0" y="403.75" width="5.50" height="38.00" fill="#3db54a" />
<line x1="52.50" y1="398.75" x2="52.50" y2="404.25" stroke="#3a3a3a" stroke-width="1.0" />
<line x1="51.65" y1="398.50" x2="53.85" y2="398.50" stroke="#3a3a3a" stroke-width="1.0" />
<rect x="63.9" y="402.5" width="5.50" height="39.25" fill="#1b5b98" />
<line x1="66.50" y1="393.00" x2="66.50" y2="403.00" stroke="#3a3a3a" stroke-width="1.0" />
<line x1="65.55" y1="393.50" x2="67.75" y2="393.50" stroke="#3a3a3a" stroke-width="1.0" />
<rect x="70.9" y="408" width="5.50" height="33.75" fill="#3db54a" />
<line x1="73.50" y1="404.50" x2="73.50" y2="408.50" stroke="#3a3a3a" stroke-width="1.0" />
<line x1="72.55" y1="404.50" x2="74.75" y2="404.50" stroke="#3a3a3a" stroke-width="1.0" />
<rect x="84.8" y="399" width="5.50" height="42.75" fill="#1b5b98" />
<line x1="87.50" y1="390.00" x2="87.50" y2="399.50" stroke="#3a3a3a" stroke-width="1.0" />
<line x1="86.45" y1="390.50" x2="88.65" y2="390.50" stroke="#3a3a3a" stroke-width="1.0" />
<rect x="91.8" y="395" width="5.50" height="46.75" fill="#3db54a" />
<line x1="94.50" y1="388.00" x2="94.50" y2="395.50" stroke="#3a3a3a" stroke-width="1.0" />
<line x1="93.45" y1="388.50" x2="95.65" y2="388.50" stroke="#3a3a3a" stroke-width="1.0" />
<rect x="105.69999999999999" y="393" width="5.50" height="48.75" fill="#1b5b98" />
<line x1="108.50" y1="382.50" x2="108.50" y2="393.50" stroke="#3a3a3a" stroke-width="1.0" />
<line x1="107.35" y1="382.50" x2="109.55" y2="382.50" stroke="#3a3a3a" stroke-width="1.0" />
<rect x="112.69999999999999" y="390.5" width="5.50" height="51.25" fill="#3db54a" />
<line x1="115.50" y1="382.50" x2="115.50" y2="391.00" stroke="#3a3a3a" stroke-width="1.0" />
<line x1="114.35" y1="382.50" x2="116.55" y2="382.50" stroke="#3a3a3a" stroke-width="1.0" />
<rect x="126.6" y="403" width="5.50" height="38.75" fill="#1b5b98" />
<line x1="129.50" y1="396.25" x2="129.50" y2="403.50" stroke="#3a3a3a" stroke-width="1.0" />
<line x1="128.25" y1="396.50" x2="130.45" y2="396.50" stroke="#3a3a3a" stroke-width="1.0" />
<rect x="133.6" y="384.5" width="5.50" height="57.25" fill="#3db54a" />
<line x1="136.50" y1="379.50" x2="136.50" y2="385.00" stroke="#3a3a3a" stroke-width="1.0" />
<line x1="135.25" y1="379.50" x2="137.45" y2="379.50" stroke="#3a3a3a" stroke-width="1.0" />
<rect x="147.5" y="397.5" width="5.50" height="44.25" fill="#1b5b98" />
<line x1="150.50" y1="391.25" x2="150.50" y2="398.00" stroke="#3a3a3a" stroke-width="1.0" />
<line x1="149.15" y1="391.50" x2="151.35" y2="391.50" stroke="#3a3a3a" stroke-width="1.0" />
<rect x="154.5" y="368.75" width="5.50" height="73.00" fill="#3db54a" />
<line x1="157.50" y1="360.75" x2="157.50" y2="369.25" stroke="#3a3a3a" stroke-width="1.0" />
<line x1="156.15" y1="360.50" x2="158.35" y2="360.50" stroke="#3a3a3a" stroke-width="1.0" />
<line x1="36.90" y1="441.75" x2="165.50" y2="441.75" stroke="#222" stroke-width="1.4" />
<line x1="49.50" y1="441.75" x2="49.50" y2="445.25" stroke="#222" stroke-width="1.0" />
<text x="49.25" y="455" font-size="6.6" text-anchor="middle" fill="#3a3a3a" font-weight="normal" >0</text>
<line x1="70.50" y1="441.75" x2="70.50" y2="445.25" stroke="#222" stroke-width="1.0" />
<text x="70.15" y="455" font-size="6.6" text-anchor="middle" fill="#3a3a3a" font-weight="normal" >1</text>
<line x1="91.50" y1="441.75" x2="91.50" y2="445.25" stroke="#222" stroke-width="1.0" />
<text x="91.05" y="455" font-size="6.6" text-anchor="middle" fill="#3a3a3a" font-weight="normal" >2</text>
<line x1="111.50" y1="441.75" x2="111.50" y2="445.25" stroke="#222" stroke-width="1.0" />
<text x="111.94999999999999" y="455" font-size="6.6" text-anchor="middle" fill="#3a3a3a" font-weight="normal" >3</text>
<line x1="132.50" y1="441.75" x2="132.50" y2="445.25" stroke="#222" stroke-width="1.0" />
<text x="132.85" y="455" font-size="6.6" text-anchor="middle" fill="#3a3a3a" font-weight="normal" >4</text>
<line x1="153.50" y1="441.75" x2="153.50" y2="445.25" stroke="#222" stroke-width="1.0" />
<text x="153.75" y="455" font-size="6.6" text-anchor="middle" fill="#3a3a3a" font-weight="normal" >5</text>
<text x="101.75" y="466.5" font-size="8.2" text-anchor="middle" fill="#2a2a2a" textLength="12" lengthAdjust="spacingAndGlyphs" font-weight="bold">Days</text>
<path d="M150.5,388.5 L150.5,353.5 L157.5,353.5 L157.5,360.5" fill="none" stroke="#3c3c3c" stroke-width="1.1"/>
<text x="154.2" y="354.75" font-size="10" text-anchor="middle" fill="#111" font-weight="normal" font-weight="bold" letter-spacing="0.2" stroke="#111" stroke-width="0.35">*</text>
<line x1="221.25" y1="355.00" x2="221.25" y2="442.35" stroke="#222" stroke-width="1.4" />
<line x1="217.55" y1="441.50" x2="221.25" y2="441.50" stroke="#222" stroke-width="1.0" />
<text x="213.7" y="443.982" font-size="6.2" text-anchor="end" fill="#333" font-weight="normal" stroke="#333" stroke-width="0.18">0</text>
<line x1="217.55" y1="424.50" x2="221.25" y2="424.50" stroke="#222" stroke-width="1.0" />
<text x="213.7" y="427.132" font-size="6.2" text-anchor="end" fill="#333" font-weight="normal" stroke="#333" stroke-width="0.18">100</text>
<line x1="217.55" y1="408.50" x2="221.25" y2="408.50" stroke="#222" stroke-width="1.0" />
<text x="213.7" y="410.28200000000004" font-size="6.2" text-anchor="end" fill="#333" font-weight="normal" stroke="#333" stroke-width="0.18">200</text>
<line x1="217.55" y1="391.50" x2="221.25" y2="391.50" stroke="#222" stroke-width="1.0" />
<text x="213.7" y="393.432" font-size="6.2" text-anchor="end" fill="#333" font-weight="normal" stroke="#333" stroke-width="0.18">300</text>
<line x1="217.55" y1="374.50" x2="221.25" y2="374.50" stroke="#222" stroke-width="1.0" />
<text x="213.7" y="376.58200000000005" font-size="6.2" text-anchor="end" fill="#333" font-weight="normal" stroke="#333" stroke-width="0.18">400</text>
<line x1="217.55" y1="357.50" x2="221.25" y2="357.50" stroke="#222" stroke-width="1.0" />
<text x="213.7" y="359.732" font-size="6.2" text-anchor="end" fill="#333" font-weight="normal" stroke="#333" stroke-width="0.18">500</text>
<text transform="translate(193.5,395) rotate(-90)" x="0" y="2.73" font-size="7.8" text-anchor="middle" fill="#383838" textLength="60.5" lengthAdjust="spacingAndGlyphs" font-weight="bold" stroke="#383838" stroke-width="0.12">Platelet count (x10<tspan font-size="4.8" dy="-2.3">6</tspan><tspan font-size="1" dy="2.3">&#8203;</tspan>/ml)</text>
<rect x="226.4" y="354.9" width="5.80" height="5.40" fill="#1b5b98" />
<circle cx="237.4" cy="356.3" r="2.2" fill="none" stroke="#111" stroke-width="0.9"/>
<line x1="237.50" y1="358.50" x2="237.50" y2="361.30" stroke="#111" stroke-width="0.9" />
<line x1="236.10" y1="360.50" x2="238.70" y2="360.50" stroke="#111" stroke-width="1.035" />
<text x="243.2" y="359.948" font-size="6.8" text-anchor="start" fill="#333" font-weight="normal" textLength="43.2" lengthAdjust="spacingAndGlyphs" >G6b KO vehicle</text>
<rect x="226.4" y="367.4" width="5.80" height="5.40" fill="#3db54a" />
<circle cx="237.4" cy="368.8" r="2.2" fill="none" stroke="#111" stroke-width="0.9"/>
<line x1="237.50" y1="371.00" x2="237.50" y2="373.80" stroke="#111" stroke-width="0.9" />
<line x1="236.10" y1="372.50" x2="238.70" y2="372.50" stroke="#111" stroke-width="1.035" />
<text x="243.2" y="372.448" font-size="6.8" text-anchor="start" fill="#333" font-weight="normal" textLength="57.1" lengthAdjust="spacingAndGlyphs" >G6b KO BI1002494</text>
<rect x="227.0" y="423.75" width="5.00" height="18.00" fill="#1b5b98" />
<line x1="229.50" y1="422.00" x2="229.50" y2="424.25" stroke="#3a3a3a" stroke-width="1.0" />
<line x1="228.40" y1="422.50" x2="230.60" y2="422.50" stroke="#3a3a3a" stroke-width="1.0" />
<rect x="234.5" y="424.25" width="5.00" height="17.50" fill="#3db54a" />
<line x1="237.50" y1="422.50" x2="237.50" y2="424.75" stroke="#3a3a3a" stroke-width="1.0" />
<line x1="235.90" y1="422.50" x2="238.10" y2="422.50" stroke="#3a3a3a" stroke-width="1.0" />
<rect x="247.65" y="426.25" width="5.00" height="15.50" fill="#1b5b98" />
<line x1="250.50" y1="424.50" x2="250.50" y2="426.75" stroke="#3a3a3a" stroke-width="1.0" />
<line x1="249.05" y1="424.50" x2="251.25" y2="424.50" stroke="#3a3a3a" stroke-width="1.0" />
<rect x="255.15" y="419.25" width="5.00" height="22.50" fill="#3db54a" />
<line x1="257.50" y1="416.25" x2="257.50" y2="419.75" stroke="#3a3a3a" stroke-width="1.0" />
<line x1="256.55" y1="416.50" x2="258.75" y2="416.50" stroke="#3a3a3a" stroke-width="1.0" />
<rect x="268.3" y="424.5" width="5.00" height="17.25" fill="#1b5b98" />
<line x1="270.50" y1="422.00" x2="270.50" y2="425.00" stroke="#3a3a3a" stroke-width="1.0" />
<line x1="269.70" y1="422.50" x2="271.90" y2="422.50" stroke="#3a3a3a" stroke-width="1.0" />
<rect x="275.8" y="410.75" width="5.00" height="31.00" fill="#3db54a" />
<line x1="278.50" y1="408.25" x2="278.50" y2="411.25" stroke="#3a3a3a" stroke-width="1.0" />
<line x1="277.20" y1="408.50" x2="279.40" y2="408.50" stroke="#3a3a3a" stroke-width="1.0" />
<rect x="288.95" y="421.75" width="5.00" height="20.00" fill="#1b5b98" />
<line x1="291.50" y1="419.25" x2="291.50" y2="422.25" stroke="#3a3a3a" stroke-width="1.0" />
<line x1="290.35" y1="419.50" x2="292.55" y2="419.50" stroke="#3a3a3a" stroke-width="1.0" />
<rect x="296.45" y="406.75" width="5.00" height="35.00" fill="#3db54a" />
<line x1="298.50" y1="403.00" x2="298.50" y2="407.25" stroke="#3a3a3a" stroke-width="1.0" />
<line x1="297.85" y1="403.50" x2="300.05" y2="403.50" stroke="#3a3a3a" stroke-width="1.0" />
<rect x="309.6" y="420" width="5.00" height="21.75" fill="#1b5b98" />
<line x1="312.50" y1="418.00" x2="312.50" y2="420.50" stroke="#3a3a3a" stroke-width="1.0" />
<line x1="311.00" y1="418.50" x2="313.20" y2="418.50" stroke="#3a3a3a" stroke-width="1.0" />
<rect x="317.1" y="402.5" width="5.00" height="39.25" fill="#3db54a" />
<line x1="319.50" y1="398.25" x2="319.50" y2="403.00" stroke="#3a3a3a" stroke-width="1.0" />
<line x1="318.50" y1="398.50" x2="320.70" y2="398.50" stroke="#3a3a3a" stroke-width="1.0" />
<rect x="330.25" y="417.5" width="5.00" height="24.25" fill="#1b5b98" />
<line x1="332.50" y1="415.00" x2="332.50" y2="418.00" stroke="#3a3a3a" stroke-width="1.0" />
<line x1="331.65" y1="415.50" x2="333.85" y2="415.50" stroke="#3a3a3a" stroke-width="1.0" />
<rect x="337.75" y="398.75" width="5.00" height="43.00" fill="#3db54a" />
<line x1="340.50" y1="396.25" x2="340.50" y2="399.25" stroke="#3a3a3a" stroke-width="1.0" />
<line x1="339.15" y1="396.50" x2="341.35" y2="396.50" stroke="#3a3a3a" stroke-width="1.0" />
<line x1="220.65" y1="441.75" x2="347.50" y2="441.75" stroke="#222" stroke-width="1.4" />
<line x1="233.50" y1="441.75" x2="233.50" y2="445.25" stroke="#222" stroke-width="1.0" />
<text x="233.0" y="455.5" font-size="6.6" text-anchor="middle" fill="#3a3a3a" font-weight="normal" >0</text>
<line x1="253.50" y1="441.75" x2="253.50" y2="445.25" stroke="#222" stroke-width="1.0" />
<text x="253.65" y="455.5" font-size="6.6" text-anchor="middle" fill="#3a3a3a" font-weight="normal" >1</text>
<line x1="274.50" y1="441.75" x2="274.50" y2="445.25" stroke="#222" stroke-width="1.0" />
<text x="274.3" y="455.5" font-size="6.6" text-anchor="middle" fill="#3a3a3a" font-weight="normal" >2</text>
<line x1="294.50" y1="441.75" x2="294.50" y2="445.25" stroke="#222" stroke-width="1.0" />
<text x="294.95" y="455.5" font-size="6.6" text-anchor="middle" fill="#3a3a3a" font-weight="normal" >3</text>
<line x1="315.50" y1="441.75" x2="315.50" y2="445.25" stroke="#222" stroke-width="1.0" />
<text x="315.6" y="455.5" font-size="6.6" text-anchor="middle" fill="#3a3a3a" font-weight="normal" >4</text>
<line x1="336.50" y1="441.75" x2="336.50" y2="445.25" stroke="#222" stroke-width="1.0" />
<text x="336.25" y="455.5" font-size="6.6" text-anchor="middle" fill="#3a3a3a" font-weight="normal" >5</text>
<text x="285" y="466.5" font-size="8.2" text-anchor="middle" fill="#2a2a2a" textLength="12" lengthAdjust="spacingAndGlyphs" font-weight="bold">Days</text>
<path d="M270.5,419 L270.5,388.5 L278.5,388.5 L278.5,405.5" fill="none" stroke="#3c3c3c" stroke-width="1.1"/>
<text x="274.75" y="389.6" font-size="8.6" text-anchor="middle" fill="#111" font-weight="normal" font-weight="bold" letter-spacing="0.2" stroke="#111" stroke-width="0.35">***</text>
<path d="M291.5,416.5 L291.5,388.5 L298.5,388.5 L298.5,401" fill="none" stroke="#3c3c3c" stroke-width="1.1"/>
<text x="295.4" y="389.6" font-size="8.6" text-anchor="middle" fill="#111" font-weight="normal" font-weight="bold" letter-spacing="0.2" stroke="#111" stroke-width="0.35">***</text>
<path d="M312.5,415.5 L312.5,388.5 L319.5,388.5 L319.5,396.5" fill="none" stroke="#3c3c3c" stroke-width="1.1"/>
<text x="316.05" y="389.6" font-size="8.6" text-anchor="middle" fill="#111" font-weight="normal" font-weight="bold" letter-spacing="0.2" stroke="#111" stroke-width="0.35">***</text>
<path d="M332.5,413 L332.5,388.5 L340.5,388.5 L340.5,394" fill="none" stroke="#3c3c3c" stroke-width="1.1"/>
<text x="336.7" y="389.6" font-size="8.6" text-anchor="middle" fill="#111" font-weight="normal" font-weight="bold" letter-spacing="0.2" stroke="#111" stroke-width="0.35">***</text>
<line x1="401.25" y1="357.00" x2="401.25" y2="442.35" stroke="#222" stroke-width="1.4" />
<line x1="397.55" y1="441.50" x2="401.25" y2="441.50" stroke="#222" stroke-width="1.0" />
<text x="393.7" y="443.982" font-size="6.2" text-anchor="end" fill="#333" font-weight="normal" stroke="#333" stroke-width="0.18">500</text>
<line x1="397.55" y1="421.50" x2="401.25" y2="421.50" stroke="#222" stroke-width="1.0" />
<text x="393.7" y="423.482" font-size="6.2" text-anchor="end" fill="#333" font-weight="normal" stroke="#333" stroke-width="0.18">750</text>
<line x1="397.55" y1="400.50" x2="401.25" y2="400.50" stroke="#222" stroke-width="1.0" />
<text x="393.7" y="402.982" font-size="6.2" text-anchor="end" fill="#333" font-weight="normal" stroke="#333" stroke-width="0.18">1000</text>
<line x1="397.55" y1="380.50" x2="401.25" y2="380.50" stroke="#222" stroke-width="1.0" />
<text x="393.7" y="382.732" font-size="6.2" text-anchor="end" fill="#333" font-weight="normal" stroke="#333" stroke-width="0.18">1250</text>
<line x1="397.55" y1="360.50" x2="401.25" y2="360.50" stroke="#222" stroke-width="1.0" />
<text x="393.7" y="362.232" font-size="6.2" text-anchor="end" fill="#333" font-weight="normal" stroke="#333" stroke-width="0.18">1500</text>
<text transform="translate(370.3,399.2) rotate(-90)" x="0" y="2.52" font-size="7.2" text-anchor="middle" fill="#2a2a2a" textLength="24" lengthAdjust="spacingAndGlyphs" font-weight="bold" stroke="#2a2a2a" stroke-width="0.12">GPVI MFI</text>
<rect x="410.5" y="380.5" width="10.50" height="61.25" fill="#cf1136" />
<rect x="410.85" y="380.85" width="9.80" height="60.90" fill="none" stroke="#000" stroke-opacity="0.22" stroke-width="0.7"/>
<line x1="415.50" y1="375.75" x2="415.50" y2="381.00" stroke="#222" stroke-width="1.0" />
<line x1="413.25" y1="375.50" x2="418.25" y2="375.50" stroke="#222" stroke-width="1.0" />
<rect x="427.5" y="417.5" width="10.50" height="24.25" fill="#1b5b98" />
<rect x="427.85" y="417.85" width="9.80" height="23.90" fill="none" stroke="#000" stroke-opacity="0.22" stroke-width="0.7"/>
<line x1="432.50" y1="415.50" x2="432.50" y2="418.00" stroke="#222" stroke-width="1.0" />
<line x1="430.25" y1="415.50" x2="435.25" y2="415.50" stroke="#222" stroke-width="1.0" />
<rect x="445" y="421.25" width="10.50" height="20.50" fill="#1b5b98" />
<rect x="445.35" y="421.60" width="9.80" height="20.15" fill="none" stroke="#000" stroke-opacity="0.22" stroke-width="0.7"/>
<line x1="450.50" y1="419.25" x2="450.50" y2="421.75" stroke="#222" stroke-width="1.0" />
<line x1="447.75" y1="419.50" x2="452.75" y2="419.50" stroke="#222" stroke-width="1.0" />
<rect x="479.5" y="420.75" width="10.50" height="21.00" fill="#3db54a" />
<rect x="479.85" y="421.10" width="9.80" height="20.65" fill="none" stroke="#000" stroke-opacity="0.22" stroke-width="0.7"/>
<line x1="484.50" y1="418.00" x2="484.50" y2="421.25" stroke="#222" stroke-width="1.0" />
<line x1="482.25" y1="418.50" x2="487.25" y2="418.50" stroke="#222" stroke-width="1.0" />
<rect x="497" y="424.5" width="10.50" height="17.25" fill="#3db54a" />
<rect x="497.35" y="424.85" width="9.80" height="16.90" fill="none" stroke="#000" stroke-opacity="0.22" stroke-width="0.7"/>
<line x1="502.50" y1="422.00" x2="502.50" y2="425.00" stroke="#222" stroke-width="1.0" />
<line x1="499.75" y1="422.50" x2="504.75" y2="422.50" stroke="#222" stroke-width="1.0" />
<line x1="400.65" y1="441.75" x2="509.00" y2="441.75" stroke="#222" stroke-width="1.4" />
<line x1="415.50" y1="441.75" x2="415.50" y2="444.75" stroke="#222" stroke-width="1.0" />
<line x1="432.50" y1="441.75" x2="432.50" y2="444.75" stroke="#222" stroke-width="1.0" />
<line x1="450.50" y1="441.75" x2="450.50" y2="444.75" stroke="#222" stroke-width="1.0" />
<line x1="484.50" y1="441.75" x2="484.50" y2="444.75" stroke="#222" stroke-width="1.0" />
<line x1="502.50" y1="441.75" x2="502.50" y2="444.75" stroke="#222" stroke-width="1.0" />
<path d="M432.5,412.5 L432.5,403.5 L484.5,403.5 L484.5,412.5" fill="none" stroke="#3c3c3c" stroke-width="1.1"/>
<text x="459.05" y="400.5" font-size="6.2" text-anchor="middle" fill="#333" font-weight="normal" stroke="#333" stroke-width="0.12">ns</text>
<path d="M450.5,397.5 L450.5,387.5 L502.5,387.5 L502.5,397.5" fill="none" stroke="#3c3c3c" stroke-width="1.1"/>
<text x="476.55" y="383.5" font-size="6.2" text-anchor="middle" fill="#333" font-weight="normal" stroke="#333" stroke-width="0.12">ns</text>
<text x="415.5" y="454.4" font-size="6.9" text-anchor="middle" fill="#222" font-weight="normal" textLength="9.2" lengthAdjust="spacingAndGlyphs" stroke="#222" stroke-width="0.15">WT</text>
<circle cx="431.90000000000003" cy="452.7" r="2.4" fill="none" stroke="#111" stroke-width="1.0"/>
<line x1="433.60" y1="451.00" x2="434.45" y2="450.15" stroke="#111" stroke-width="1.0" />
<path d="M436.14,448.46 L433.14,449.00 L435.60,451.46 Z" fill="#111"/>
<circle cx="450.2" cy="450.5" r="2.35" fill="none" stroke="#111" stroke-width="1.0"/>
<line x1="450.50" y1="452.85" x2="450.50" y2="455.85" stroke="#111" stroke-width="1.0" />
<line x1="448.50" y1="454.50" x2="451.90" y2="454.50" stroke="#111" stroke-width="1.15" />
<circle cx="483.90000000000003" cy="452.7" r="2.4" fill="none" stroke="#111" stroke-width="1.0"/>
<line x1="485.60" y1="451.00" x2="486.45" y2="450.15" stroke="#111" stroke-width="1.0" />
<path d="M488.14,448.46 L485.14,449.00 L487.60,451.46 Z" fill="#111"/>
<circle cx="502.2" cy="450.5" r="2.35" fill="none" stroke="#111" stroke-width="1.0"/>
<line x1="502.50" y1="452.85" x2="502.50" y2="455.85" stroke="#111" stroke-width="1.0" />
<line x1="500.50" y1="454.50" x2="503.90" y2="454.50" stroke="#111" stroke-width="1.15" />
<text x="441.4" y="467.5" font-size="8.7" text-anchor="middle" fill="#1a1a1a" textLength="19.3" lengthAdjust="spacingAndGlyphs" font-weight="normal">G6b KO</text>
<line x1="431.50" y1="469.50" x2="451.20" y2="469.50" stroke="#222" stroke-width="1.1" />
<text x="441.4" y="477.3" font-size="8.2" text-anchor="middle" fill="#1a1a1a" textLength="17.6" lengthAdjust="spacingAndGlyphs" font-weight="normal">vehicle</text>
<text x="493.4" y="466.7" font-size="8.7" text-anchor="middle" fill="#1a1a1a" textLength="19.3" lengthAdjust="spacingAndGlyphs" font-weight="normal">G6b KO</text>
<line x1="480.00" y1="468.50" x2="506.50" y2="468.50" stroke="#222" stroke-width="1.1" />
<text x="493.2" y="477.3" font-size="8.2" text-anchor="middle" fill="#1a1a1a" textLength="26" lengthAdjust="spacingAndGlyphs" font-weight="normal">BI1002494</text>
<line x1="37.50" y1="514.25" x2="37.50" y2="602.35" stroke="#222" stroke-width="1.4" />
<line x1="33.80" y1="601.50" x2="37.50" y2="601.50" stroke="#222" stroke-width="1.0" />
<text x="29.7" y="603.982" font-size="6.2" text-anchor="end" fill="#333" font-weight="normal" stroke="#333" stroke-width="0.18">0</text>
<line x1="33.80" y1="580.50" x2="37.50" y2="580.50" stroke="#222" stroke-width="1.0" />
<text x="29.7" y="582.922" font-size="6.2" text-anchor="end" fill="#333" font-weight="normal" stroke="#333" stroke-width="0.18">2</text>
<line x1="33.80" y1="559.50" x2="37.50" y2="559.50" stroke="#222" stroke-width="1.0" />
<text x="29.7" y="561.862" font-size="6.2" text-anchor="end" fill="#333" font-weight="normal" stroke="#333" stroke-width="0.18">4</text>
<line x1="33.80" y1="538.50" x2="37.50" y2="538.50" stroke="#222" stroke-width="1.0" />
<text x="29.7" y="540.802" font-size="6.2" text-anchor="end" fill="#333" font-weight="normal" stroke="#333" stroke-width="0.18">6</text>
<line x1="33.80" y1="517.50" x2="37.50" y2="517.50" stroke="#222" stroke-width="1.0" />
<text x="29.7" y="519.742" font-size="6.2" text-anchor="end" fill="#333" font-weight="normal" stroke="#333" stroke-width="0.18">8</text>
<text transform="translate(18.2,558) rotate(-90)" x="0" y="2.73" font-size="7.8" text-anchor="middle" fill="#383838" textLength="50" lengthAdjust="spacingAndGlyphs" font-weight="bold" stroke="#383838" stroke-width="0.12">Platelet volume (fL)</text>
<rect x="43" y="504.4" width="5.30" height="5.20" fill="#1b5b98" />
<circle cx="53.4" cy="507.9" r="2.3" fill="none" stroke="#111" stroke-width="0.9"/>
<line x1="55.03" y1="506.27" x2="56.16" y2="505.14" stroke="#111" stroke-width="0.9" />
<path d="M57.79,503.51 L54.92,504.03 L57.27,506.38 Z" fill="#111"/>
<text x="60.4" y="509.448" font-size="6.8" text-anchor="start" fill="#333" font-weight="normal" textLength="43.2" lengthAdjust="spacingAndGlyphs" >G6b KO vehicle</text>
<rect x="43" y="516.4" width="5.30" height="5.20" fill="#3db54a" />
<circle cx="53.4" cy="519.9" r="2.3" fill="none" stroke="#111" stroke-width="0.9"/>
<line x1="55.03" y1="518.27" x2="56.16" y2="517.14" stroke="#111" stroke-width="0.9" />
<path d="M57.79,515.51 L54.92,516.03 L57.27,518.38 Z" fill="#111"/>
<text x="60.4" y="521.448" font-size="6.8" text-anchor="start" fill="#333" font-weight="normal" textLength="57.1" lengthAdjust="spacingAndGlyphs" >G6b KO BI1002494</text>
<rect x="43.0" y="536.25" width="5.50" height="65.50" fill="#1b5b98" />
<line x1="45.50" y1="535.00" x2="45.50" y2="536.75" stroke="#3a3a3a" stroke-width="1.0" />
<line x1="44.65" y1="535.50" x2="46.85" y2="535.50" stroke="#3a3a3a" stroke-width="1.0" />
<rect x="50.0" y="537.5" width="5.50" height="64.25" fill="#3db54a" />
<line x1="52.50" y1="536.00" x2="52.50" y2="538.00" stroke="#3a3a3a" stroke-width="1.0" />
<line x1="51.65" y1="536.50" x2="53.85" y2="536.50" stroke="#3a3a3a" stroke-width="1.0" />
<rect x="63.9" y="534.25" width="5.50" height="67.50" fill="#1b5b98" />
<line x1="66.50" y1="532.50" x2="66.50" y2="534.75" stroke="#3a3a3a" stroke-width="1.0" />
<line x1="65.55" y1="532.50" x2="67.75" y2="532.50" stroke="#3a3a3a" stroke-width="1.0" />
<rect x="70.9" y="535" width="5.50" height="66.75" fill="#3db54a" />
<line x1="73.50" y1="533.00" x2="73.50" y2="535.50" stroke="#3a3a3a" stroke-width="1.0" />
<line x1="72.55" y1="533.50" x2="74.75" y2="533.50" stroke="#3a3a3a" stroke-width="1.0" />
<rect x="84.8" y="533.75" width="5.50" height="68.00" fill="#1b5b98" />
<line x1="87.50" y1="531.75" x2="87.50" y2="534.25" stroke="#3a3a3a" stroke-width="1.0" />
<line x1="86.45" y1="531.50" x2="88.65" y2="531.50" stroke="#3a3a3a" stroke-width="1.0" />
<rect x="91.8" y="534.25" width="5.50" height="67.50" fill="#3db54a" />
<line x1="94.50" y1="532.00" x2="94.50" y2="534.75" stroke="#3a3a3a" stroke-width="1.0" />
<line x1="93.45" y1="532.50" x2="95.65" y2="532.50" stroke="#3a3a3a" stroke-width="1.0" />
<rect x="105.69999999999999" y="535.5" width="5.50" height="66.25" fill="#1b5b98" />
<line x1="108.50" y1="533.75" x2="108.50" y2="536.00" stroke="#3a3a3a" stroke-width="1.0" />
<line x1="107.35" y1="533.50" x2="109.55" y2="533.50" stroke="#3a3a3a" stroke-width="1.0" />
<rect x="112.69999999999999" y="535" width="5.50" height="66.75" fill="#3db54a" />
<line x1="115.50" y1="533.00" x2="115.50" y2="535.50" stroke="#3a3a3a" stroke-width="1.0" />
<line x1="114.35" y1="533.50" x2="116.55" y2="533.50" stroke="#3a3a3a" stroke-width="1.0" />
<rect x="126.6" y="534.25" width="5.50" height="67.50" fill="#1b5b98" />
<line x1="129.50" y1="532.00" x2="129.50" y2="534.75" stroke="#3a3a3a" stroke-width="1.0" />
<line x1="128.25" y1="532.50" x2="130.45" y2="532.50" stroke="#3a3a3a" stroke-width="1.0" />
<rect x="133.6" y="536.25" width="5.50" height="65.50" fill="#3db54a" />
<line x1="136.50" y1="534.50" x2="136.50" y2="536.75" stroke="#3a3a3a" stroke-width="1.0" />
<line x1="135.25" y1="534.50" x2="137.45" y2="534.50" stroke="#3a3a3a" stroke-width="1.0" />
<rect x="147.5" y="537" width="5.50" height="64.75" fill="#1b5b98" />
<line x1="150.50" y1="535.00" x2="150.50" y2="537.50" stroke="#3a3a3a" stroke-width="1.0" />
<line x1="149.15" y1="535.50" x2="151.35" y2="535.50" stroke="#3a3a3a" stroke-width="1.0" />
<rect x="154.5" y="540" width="5.50" height="61.75" fill="#3db54a" />
<line x1="157.50" y1="538.75" x2="157.50" y2="540.50" stroke="#3a3a3a" stroke-width="1.0" />
<line x1="156.15" y1="538.50" x2="158.35" y2="538.50" stroke="#3a3a3a" stroke-width="1.0" />
<line x1="36.90" y1="601.75" x2="165.00" y2="601.75" stroke="#222" stroke-width="1.4" />
<line x1="49.50" y1="601.75" x2="49.50" y2="605.25" stroke="#222" stroke-width="1.0" />
<text x="49.25" y="615" font-size="6.6" text-anchor="middle" fill="#3a3a3a" font-weight="normal" >0</text>
<line x1="70.50" y1="601.75" x2="70.50" y2="605.25" stroke="#222" stroke-width="1.0" />
<text x="70.15" y="615" font-size="6.6" text-anchor="middle" fill="#3a3a3a" font-weight="normal" >1</text>
<line x1="91.50" y1="601.75" x2="91.50" y2="605.25" stroke="#222" stroke-width="1.0" />
<text x="91.05" y="615" font-size="6.6" text-anchor="middle" fill="#3a3a3a" font-weight="normal" >2</text>
<line x1="111.50" y1="601.75" x2="111.50" y2="605.25" stroke="#222" stroke-width="1.0" />
<text x="111.94999999999999" y="615" font-size="6.6" text-anchor="middle" fill="#3a3a3a" font-weight="normal" >3</text>
<line x1="132.50" y1="601.75" x2="132.50" y2="605.25" stroke="#222" stroke-width="1.0" />
<text x="132.85" y="615" font-size="6.6" text-anchor="middle" fill="#3a3a3a" font-weight="normal" >4</text>
<line x1="153.50" y1="601.75" x2="153.50" y2="605.25" stroke="#222" stroke-width="1.0" />
<text x="153.75" y="615" font-size="6.6" text-anchor="middle" fill="#3a3a3a" font-weight="normal" >5</text>
<text x="101.75" y="626.5" font-size="8.2" text-anchor="middle" fill="#2a2a2a" textLength="12" lengthAdjust="spacingAndGlyphs" font-weight="bold">Days</text>
<line x1="221.25" y1="515.00" x2="221.25" y2="602.35" stroke="#222" stroke-width="1.4" />
<line x1="217.55" y1="601.50" x2="221.25" y2="601.50" stroke="#222" stroke-width="1.0" />
<text x="213.7" y="603.982" font-size="6.2" text-anchor="end" fill="#333" font-weight="normal" stroke="#333" stroke-width="0.18">0</text>
<line x1="217.55" y1="580.50" x2="221.25" y2="580.50" stroke="#222" stroke-width="1.0" />
<text x="213.7" y="583.0419999999999" font-size="6.2" text-anchor="end" fill="#333" font-weight="normal" stroke="#333" stroke-width="0.18">2</text>
<line x1="217.55" y1="559.50" x2="221.25" y2="559.50" stroke="#222" stroke-width="1.0" />
<text x="213.7" y="562.102" font-size="6.2" text-anchor="end" fill="#333" font-weight="normal" stroke="#333" stroke-width="0.18">4</text>
<line x1="217.55" y1="538.50" x2="221.25" y2="538.50" stroke="#222" stroke-width="1.0" />
<text x="213.7" y="541.1619999999999" font-size="6.2" text-anchor="end" fill="#333" font-weight="normal" stroke="#333" stroke-width="0.18">6</text>
<line x1="217.55" y1="517.50" x2="221.25" y2="517.50" stroke="#222" stroke-width="1.0" />
<text x="213.7" y="520.222" font-size="6.2" text-anchor="end" fill="#333" font-weight="normal" stroke="#333" stroke-width="0.18">8</text>
<text transform="translate(202.4,558.3) rotate(-90)" x="0" y="2.73" font-size="7.8" text-anchor="middle" fill="#383838" textLength="49.5" lengthAdjust="spacingAndGlyphs" font-weight="bold" stroke="#383838" stroke-width="0.12">Platelet volume (fL)</text>
<rect x="226.4" y="504.15" width="5.80" height="5.40" fill="#1b5b98" />
<circle cx="237.4" cy="505.55" r="2.2" fill="none" stroke="#111" stroke-width="0.9"/>
<line x1="237.50" y1="507.75" x2="237.50" y2="510.55" stroke="#111" stroke-width="0.9" />
<line x1="236.10" y1="509.50" x2="238.70" y2="509.50" stroke="#111" stroke-width="1.035" />
<text x="243.2" y="509.198" font-size="6.8" text-anchor="start" fill="#333" font-weight="normal" textLength="43.2" lengthAdjust="spacingAndGlyphs" >G6b KO vehicle</text>
<rect x="226.4" y="516.4" width="5.80" height="5.40" fill="#3db54a" />
<circle cx="237.4" cy="517.8" r="2.2" fill="none" stroke="#111" stroke-width="0.9"/>
<line x1="237.50" y1="520.00" x2="237.50" y2="522.80" stroke="#111" stroke-width="0.9" />
<line x1="236.10" y1="521.50" x2="238.70" y2="521.50" stroke="#111" stroke-width="1.035" />
<text x="243.2" y="521.448" font-size="6.8" text-anchor="start" fill="#333" font-weight="normal" textLength="57.1" lengthAdjust="spacingAndGlyphs" >G6b KO BI1002494</text>
<rect x="227.0" y="535.5" width="5.00" height="66.25" fill="#1b5b98" />
<line x1="229.50" y1="533.25" x2="229.50" y2="536.00" stroke="#3a3a3a" stroke-width="1.0" />
<line x1="228.40" y1="533.50" x2="230.60" y2="533.50" stroke="#3a3a3a" stroke-width="1.0" />
<rect x="234.5" y="536" width="5.00" height="65.75" fill="#3db54a" />
<line x1="237.50" y1="533.75" x2="237.50" y2="536.50" stroke="#3a3a3a" stroke-width="1.0" />
<line x1="235.90" y1="533.50" x2="238.10" y2="533.50" stroke="#3a3a3a" stroke-width="1.0" />
<rect x="247.65" y="535.5" width="5.00" height="66.25" fill="#1b5b98" />
<line x1="250.50" y1="533.00" x2="250.50" y2="536.00" stroke="#3a3a3a" stroke-width="1.0" />
<line x1="249.05" y1="533.50" x2="251.25" y2="533.50" stroke="#3a3a3a" stroke-width="1.0" />
<rect x="255.15" y="533" width="5.00" height="68.75" fill="#3db54a" />
<line x1="257.50" y1="530.00" x2="257.50" y2="533.50" stroke="#3a3a3a" stroke-width="1.0" />
<line x1="256.55" y1="530.50" x2="258.75" y2="530.50" stroke="#3a3a3a" stroke-width="1.0" />
<rect x="268.3" y="532.5" width="5.00" height="69.25" fill="#1b5b98" />
<line x1="270.50" y1="530.00" x2="270.50" y2="533.00" stroke="#3a3a3a" stroke-width="1.0" />
<line x1="269.70" y1="530.50" x2="271.90" y2="530.50" stroke="#3a3a3a" stroke-width="1.0" />
<rect x="275.8" y="533" width="5.00" height="68.75" fill="#3db54a" />
<line x1="278.50" y1="531.25" x2="278.50" y2="533.50" stroke="#3a3a3a" stroke-width="1.0" />
<line x1="277.20" y1="531.50" x2="279.40" y2="531.50" stroke="#3a3a3a" stroke-width="1.0" />
<rect x="288.95" y="535" width="5.00" height="66.75" fill="#1b5b98" />
<line x1="291.50" y1="532.50" x2="291.50" y2="535.50" stroke="#3a3a3a" stroke-width="1.0" />
<line x1="290.35" y1="532.50" x2="292.55" y2="532.50" stroke="#3a3a3a" stroke-width="1.0" />
<rect x="296.45" y="530.75" width="5.00" height="71.00" fill="#3db54a" />
<line x1="298.50" y1="529.00" x2="298.50" y2="531.25" stroke="#3a3a3a" stroke-width="1.0" />
<line x1="297.85" y1="529.50" x2="300.05" y2="529.50" stroke="#3a3a3a" stroke-width="1.0" />
<rect x="309.6" y="533" width="5.00" height="68.75" fill="#1b5b98" />
<line x1="312.50" y1="531.25" x2="312.50" y2="533.50" stroke="#3a3a3a" stroke-width="1.0" />
<line x1="311.00" y1="531.50" x2="313.20" y2="531.50" stroke="#3a3a3a" stroke-width="1.0" />
<rect x="317.1" y="532.5" width="5.00" height="69.25" fill="#3db54a" />
<line x1="319.50" y1="530.75" x2="319.50" y2="533.00" stroke="#3a3a3a" stroke-width="1.0" />
<line x1="318.50" y1="530.50" x2="320.70" y2="530.50" stroke="#3a3a3a" stroke-width="1.0" />
<rect x="330.25" y="534.5" width="5.00" height="67.25" fill="#1b5b98" />
<line x1="332.50" y1="533.00" x2="332.50" y2="535.00" stroke="#3a3a3a" stroke-width="1.0" />
<line x1="331.65" y1="533.50" x2="333.85" y2="533.50" stroke="#3a3a3a" stroke-width="1.0" />
<rect x="337.75" y="535.5" width="5.00" height="66.25" fill="#3db54a" />
<line x1="340.50" y1="534.00" x2="340.50" y2="536.00" stroke="#3a3a3a" stroke-width="1.0" />
<line x1="339.15" y1="534.50" x2="341.35" y2="534.50" stroke="#3a3a3a" stroke-width="1.0" />
<line x1="220.65" y1="601.75" x2="347.50" y2="601.75" stroke="#222" stroke-width="1.4" />
<line x1="233.50" y1="601.75" x2="233.50" y2="605.25" stroke="#222" stroke-width="1.0" />
<text x="233.0" y="615.5" font-size="6.6" text-anchor="middle" fill="#3a3a3a" font-weight="normal" >0</text>
<line x1="253.50" y1="601.75" x2="253.50" y2="605.25" stroke="#222" stroke-width="1.0" />
<text x="253.65" y="615.5" font-size="6.6" text-anchor="middle" fill="#3a3a3a" font-weight="normal" >1</text>
<line x1="274.50" y1="601.75" x2="274.50" y2="605.25" stroke="#222" stroke-width="1.0" />
<text x="274.3" y="615.5" font-size="6.6" text-anchor="middle" fill="#3a3a3a" font-weight="normal" >2</text>
<line x1="294.50" y1="601.75" x2="294.50" y2="605.25" stroke="#222" stroke-width="1.0" />
<text x="294.95" y="615.5" font-size="6.6" text-anchor="middle" fill="#3a3a3a" font-weight="normal" >3</text>
<line x1="315.50" y1="601.75" x2="315.50" y2="605.25" stroke="#222" stroke-width="1.0" />
<text x="315.6" y="615.5" font-size="6.6" text-anchor="middle" fill="#3a3a3a" font-weight="normal" >4</text>
<line x1="336.50" y1="601.75" x2="336.50" y2="605.25" stroke="#222" stroke-width="1.0" />
<text x="336.25" y="615.5" font-size="6.6" text-anchor="middle" fill="#3a3a3a" font-weight="normal" >5</text>
<text x="285" y="626.5" font-size="8.2" text-anchor="middle" fill="#2a2a2a" textLength="12" lengthAdjust="spacingAndGlyphs" font-weight="bold">Days</text>
<line x1="401.25" y1="524.25" x2="401.25" y2="602.35" stroke="#222" stroke-width="1.4" />
<line x1="397.55" y1="601.50" x2="401.25" y2="601.50" stroke="#222" stroke-width="1.0" />
<text x="393.7" y="603.982" font-size="6.2" text-anchor="end" fill="#333" font-weight="normal" stroke="#333" stroke-width="0.18">0</text>
<line x1="397.55" y1="583.50" x2="401.25" y2="583.50" stroke="#222" stroke-width="1.0" />
<text x="393.7" y="585.232" font-size="6.2" text-anchor="end" fill="#333" font-weight="normal" stroke="#333" stroke-width="0.18">250</text>
<line x1="397.55" y1="564.50" x2="401.25" y2="564.50" stroke="#222" stroke-width="1.0" />
<text x="393.7" y="566.732" font-size="6.2" text-anchor="end" fill="#333" font-weight="normal" stroke="#333" stroke-width="0.18">500</text>
<line x1="397.55" y1="545.50" x2="401.25" y2="545.50" stroke="#222" stroke-width="1.0" />
<text x="393.7" y="547.982" font-size="6.2" text-anchor="end" fill="#333" font-weight="normal" stroke="#333" stroke-width="0.18">750</text>
<line x1="397.55" y1="527.50" x2="401.25" y2="527.50" stroke="#222" stroke-width="1.0" />
<text x="393.7" y="529.232" font-size="6.2" text-anchor="end" fill="#333" font-weight="normal" stroke="#333" stroke-width="0.18">1000</text>
<text transform="translate(371.25,563) rotate(-90)" x="0" y="2.52" font-size="7.2" text-anchor="middle" fill="#2a2a2a" textLength="21" lengthAdjust="spacingAndGlyphs" font-weight="bold" stroke="#2a2a2a" stroke-width="0.12">&#945;2 MFI</text>
<rect x="410.5" y="533" width="10.50" height="68.75" fill="#cf1136" />
<rect x="410.85" y="533.35" width="9.80" height="68.40" fill="none" stroke="#000" stroke-opacity="0.22" stroke-width="0.7"/>
<line x1="415.50" y1="529.50" x2="415.50" y2="533.50" stroke="#222" stroke-width="1.0" />
<line x1="413.25" y1="529.50" x2="418.25" y2="529.50" stroke="#222" stroke-width="1.0" />
<rect x="427.5" y="547.5" width="10.50" height="54.25" fill="#1b5b98" />
<rect x="427.85" y="547.85" width="9.80" height="53.90" fill="none" stroke="#000" stroke-opacity="0.22" stroke-width="0.7"/>
<line x1="432.50" y1="544.50" x2="432.50" y2="548.00" stroke="#222" stroke-width="1.0" />
<line x1="430.25" y1="544.50" x2="435.25" y2="544.50" stroke="#222" stroke-width="1.0" />
<rect x="445" y="550" width="10.50" height="51.75" fill="#1b5b98" />
<rect x="445.35" y="550.35" width="9.80" height="51.40" fill="none" stroke="#000" stroke-opacity="0.22" stroke-width="0.7"/>
<line x1="450.50" y1="547.50" x2="450.50" y2="550.50" stroke="#222" stroke-width="1.0" />
<line x1="447.75" y1="547.50" x2="452.75" y2="547.50" stroke="#222" stroke-width="1.0" />
<rect x="479.5" y="550.5" width="10.50" height="51.25" fill="#3db54a" />
<rect x="479.85" y="550.85" width="9.80" height="50.90" fill="none" stroke="#000" stroke-opacity="0.22" stroke-width="0.7"/>
<line x1="484.50" y1="548.25" x2="484.50" y2="551.00" stroke="#222" stroke-width="1.0" />
<line x1="482.25" y1="548.50" x2="487.25" y2="548.50" stroke="#222" stroke-width="1.0" />
<rect x="497" y="551.75" width="10.50" height="50.00" fill="#3db54a" />
<rect x="497.35" y="552.10" width="9.80" height="49.65" fill="none" stroke="#000" stroke-opacity="0.22" stroke-width="0.7"/>
<line x1="502.50" y1="549.25" x2="502.50" y2="552.25" stroke="#222" stroke-width="1.0" />
<line x1="499.75" y1="549.50" x2="504.75" y2="549.50" stroke="#222" stroke-width="1.0" />
<line x1="400.65" y1="601.75" x2="509.00" y2="601.75" stroke="#222" stroke-width="1.4" />
<line x1="415.50" y1="601.75" x2="415.50" y2="604.75" stroke="#222" stroke-width="1.0" />
<line x1="432.50" y1="601.75" x2="432.50" y2="604.75" stroke="#222" stroke-width="1.0" />
<line x1="450.50" y1="601.75" x2="450.50" y2="604.75" stroke="#222" stroke-width="1.0" />
<line x1="484.50" y1="601.75" x2="484.50" y2="604.75" stroke="#222" stroke-width="1.0" />
<line x1="502.50" y1="601.75" x2="502.50" y2="604.75" stroke="#222" stroke-width="1.0" />
<path d="M432.5,528.75 L432.5,523.5 L484.5,523.5 L484.5,528.75" fill="none" stroke="#3c3c3c" stroke-width="1.1"/>
<text x="459.05" y="520.5" font-size="6.2" text-anchor="middle" fill="#333" font-weight="normal" stroke="#333" stroke-width="0.12">ns</text>
<path d="M450.5,544.5 L450.5,538.5 L502.5,538.5 L502.5,544.5" fill="none" stroke="#3c3c3c" stroke-width="1.1"/>
<text x="476.55" y="536.5" font-size="6.2" text-anchor="middle" fill="#333" font-weight="normal" stroke="#333" stroke-width="0.12">ns</text>
<text x="415.5" y="614.4" font-size="6.9" text-anchor="middle" fill="#222" font-weight="normal" textLength="9.2" lengthAdjust="spacingAndGlyphs" stroke="#222" stroke-width="0.15">WT</text>
<circle cx="431.90000000000003" cy="612.7" r="2.4" fill="none" stroke="#111" stroke-width="1.0"/>
<line x1="433.60" y1="611.00" x2="434.45" y2="610.15" stroke="#111" stroke-width="1.0" />
<path d="M436.14,608.46 L433.14,609.00 L435.60,611.46 Z" fill="#111"/>
<circle cx="450.2" cy="610.5" r="2.35" fill="none" stroke="#111" stroke-width="1.0"/>
<line x1="450.50" y1="612.85" x2="450.50" y2="615.85" stroke="#111" stroke-width="1.0" />
<line x1="448.50" y1="614.50" x2="451.90" y2="614.50" stroke="#111" stroke-width="1.15" />
<circle cx="483.90000000000003" cy="612.7" r="2.4" fill="none" stroke="#111" stroke-width="1.0"/>
<line x1="485.60" y1="611.00" x2="486.45" y2="610.15" stroke="#111" stroke-width="1.0" />
<path d="M488.14,608.46 L485.14,609.00 L487.60,611.46 Z" fill="#111"/>
<circle cx="502.2" cy="610.5" r="2.35" fill="none" stroke="#111" stroke-width="1.0"/>
<line x1="502.50" y1="612.85" x2="502.50" y2="615.85" stroke="#111" stroke-width="1.0" />
<line x1="500.50" y1="614.50" x2="503.90" y2="614.50" stroke="#111" stroke-width="1.15" />
<text x="441.4" y="627.5" font-size="8.7" text-anchor="middle" fill="#1a1a1a" textLength="19.3" lengthAdjust="spacingAndGlyphs" font-weight="normal">G6b KO</text>
<line x1="431.50" y1="629.50" x2="451.20" y2="629.50" stroke="#222" stroke-width="1.1" />
<text x="441.4" y="637.3" font-size="8.2" text-anchor="middle" fill="#1a1a1a" textLength="17.6" lengthAdjust="spacingAndGlyphs" font-weight="normal">vehicle</text>
<text x="493.4" y="626.7" font-size="8.7" text-anchor="middle" fill="#1a1a1a" textLength="19.3" lengthAdjust="spacingAndGlyphs" font-weight="normal">G6b KO</text>
<line x1="480.00" y1="628.50" x2="506.50" y2="628.50" stroke="#222" stroke-width="1.1" />
<text x="493.2" y="637.3" font-size="8.2" text-anchor="middle" fill="#1a1a1a" textLength="26" lengthAdjust="spacingAndGlyphs" font-weight="normal">BI1002494</text>
<line x1="105.00" y1="671.25" x2="105.00" y2="765.60" stroke="#222" stroke-width="1.4" />
<line x1="101.30" y1="765.50" x2="105.00" y2="765.50" stroke="#222" stroke-width="1.0" />
<text x="98.3" y="767.376" font-size="6.6" text-anchor="end" fill="#333" font-weight="normal" stroke="#333" stroke-width="0.18">0</text>
<line x1="101.30" y1="742.50" x2="105.00" y2="742.50" stroke="#222" stroke-width="1.0" />
<text x="98.3" y="744.876" font-size="6.6" text-anchor="end" fill="#333" font-weight="normal" stroke="#333" stroke-width="0.18">10</text>
<line x1="101.30" y1="719.50" x2="105.00" y2="719.50" stroke="#222" stroke-width="1.0" />
<text x="98.3" y="721.876" font-size="6.6" text-anchor="end" fill="#333" font-weight="normal" stroke="#333" stroke-width="0.18">20</text>
<line x1="101.30" y1="696.50" x2="105.00" y2="696.50" stroke="#222" stroke-width="1.0" />
<text x="98.3" y="699.126" font-size="6.6" text-anchor="end" fill="#333" font-weight="normal" stroke="#333" stroke-width="0.18">30</text>
<line x1="101.30" y1="673.50" x2="105.00" y2="673.50" stroke="#222" stroke-width="1.0" />
<text x="98.3" y="676.126" font-size="6.6" text-anchor="end" fill="#333" font-weight="normal" stroke="#333" stroke-width="0.18">40</text>
<text transform="translate(82.4,718.2) rotate(-90)" x="0" y="2.59" font-size="7.4" text-anchor="middle" fill="#2a2a2a" textLength="49.7" lengthAdjust="spacingAndGlyphs" font-weight="bold" stroke="#2a2a2a" stroke-width="0.12">Bleeding time (min)</text>
<line x1="105.00" y1="697.50" x2="202.00" y2="697.50" stroke="#c8304f" stroke-width="1.2" stroke-dasharray="2.6,2"/>
<text x="109" y="694.4" font-size="6.9" text-anchor="start" fill="#cc3355" font-weight="normal" textLength="61" lengthAdjust="spacingAndGlyphs" >30 min = maximal time</text>
<rect x="108.1" y="745.5" width="11.00" height="19.50" fill="#cf1136" />
<rect x="108.45" y="745.85" width="10.30" height="19.15" fill="none" stroke="#000" stroke-opacity="0.22" stroke-width="0.7"/>
<line x1="113.50" y1="732.50" x2="113.50" y2="746.00" stroke="#333" stroke-width="1.0" />
<line x1="111.60" y1="732.50" x2="115.60" y2="732.50" stroke="#333" stroke-width="1.0" />
<rect x="122.0" y="713.8" width="11.00" height="51.20" fill="#1b5b98" />
<rect x="122.35" y="714.15" width="10.30" height="50.85" fill="none" stroke="#000" stroke-opacity="0.22" stroke-width="0.7"/>
<line x1="127.50" y1="702.50" x2="127.50" y2="714.30" stroke="#333" stroke-width="1.0" />
<line x1="125.50" y1="702.50" x2="129.50" y2="702.50" stroke="#333" stroke-width="1.0" />
<line x1="127.50" y1="713.80" x2="127.50" y2="723.80" stroke="#333" stroke-width="1.0" />
<line x1="125.50" y1="723.50" x2="129.50" y2="723.50" stroke="#333" stroke-width="1.0" />
<rect x="135.7" y="698.5" width="11.00" height="66.50" fill="#1b5b98" />
<rect x="136.05" y="698.85" width="10.30" height="66.15" fill="none" stroke="#000" stroke-opacity="0.22" stroke-width="0.7"/>
<rect x="162.8" y="748.1" width="11.00" height="16.90" fill="#cf1136" />
<rect x="163.15" y="748.45" width="10.30" height="16.55" fill="none" stroke="#000" stroke-opacity="0.22" stroke-width="0.7"/>
<line x1="168.50" y1="735.30" x2="168.50" y2="748.60" stroke="#333" stroke-width="1.0" />
<line x1="166.30" y1="735.50" x2="170.30" y2="735.50" stroke="#333" stroke-width="1.0" />
<rect x="176.5" y="706.3" width="11.00" height="58.70" fill="#3db54a" />
<rect x="176.85" y="706.65" width="10.30" height="58.35" fill="none" stroke="#000" stroke-opacity="0.22" stroke-width="0.7"/>
<line x1="182.50" y1="697.00" x2="182.50" y2="706.80" stroke="#333" stroke-width="1.0" />
<line x1="180.00" y1="697.50" x2="184.00" y2="697.50" stroke="#333" stroke-width="1.0" />
<line x1="182.50" y1="706.30" x2="182.50" y2="715.50" stroke="#333" stroke-width="1.0" />
<line x1="180.00" y1="715.50" x2="184.00" y2="715.50" stroke="#333" stroke-width="1.0" />
<rect x="189.9" y="706.3" width="11.00" height="58.70" fill="#3db54a" />
<rect x="190.25" y="706.65" width="10.30" height="58.35" fill="none" stroke="#000" stroke-opacity="0.22" stroke-width="0.7"/>
<line x1="195.50" y1="699.70" x2="195.50" y2="706.80" stroke="#333" stroke-width="1.0" />
<line x1="193.40" y1="699.50" x2="197.40" y2="699.50" stroke="#333" stroke-width="1.0" />
<line x1="195.50" y1="706.30" x2="195.50" y2="712.30" stroke="#333" stroke-width="1.0" />
<line x1="193.40" y1="712.50" x2="197.40" y2="712.50" stroke="#333" stroke-width="1.0" />
<line x1="104.40" y1="765.00" x2="204.30" y2="765.00" stroke="#222" stroke-width="1.4" />
<line x1="113.50" y1="765.00" x2="113.50" y2="768.00" stroke="#222" stroke-width="1.0" />
<line x1="127.50" y1="765.00" x2="127.50" y2="768.00" stroke="#222" stroke-width="1.0" />
<line x1="141.50" y1="765.00" x2="141.50" y2="768.00" stroke="#222" stroke-width="1.0" />
<line x1="168.50" y1="765.00" x2="168.50" y2="768.00" stroke="#222" stroke-width="1.0" />
<line x1="182.50" y1="765.00" x2="182.50" y2="768.00" stroke="#222" stroke-width="1.0" />
<line x1="195.50" y1="765.00" x2="195.50" y2="768.00" stroke="#222" stroke-width="1.0" />
<circle cx="113.6" cy="707.1" r="1.5" fill="#111"/>
<circle cx="109.6" cy="758.8" r="1.1" fill="#3a0a14"/>
<circle cx="111.6" cy="758.8" r="1.1" fill="#3a0a14"/>
<circle cx="113.6" cy="758.8" r="1.1" fill="#3a0a14"/>
<circle cx="115.6" cy="758.8" r="1.1" fill="#3a0a14"/>
<circle cx="117.6" cy="758.8" r="1.1" fill="#3a0a14"/>
<circle cx="123.5" cy="697.3" r="1.1" fill="#2a0a14"/>
<circle cx="137.2" cy="697.3" r="1.1" fill="#2a0a14"/>
<circle cx="178" cy="697.3" r="1.1" fill="#2a0a14"/>
<circle cx="191.4" cy="697.3" r="1.1" fill="#2a0a14"/>
<circle cx="125.5" cy="697.3" r="1.1" fill="#2a0a14"/>
<circle cx="139.2" cy="697.3" r="1.1" fill="#2a0a14"/>
<circle cx="180" cy="697.3" r="1.1" fill="#2a0a14"/>
<circle cx="193.4" cy="697.3" r="1.1" fill="#2a0a14"/>
<circle cx="127.5" cy="697.3" r="1.1" fill="#2a0a14"/>
<circle cx="141.2" cy="697.3" r="1.1" fill="#2a0a14"/>
<circle cx="182" cy="697.3" r="1.1" fill="#2a0a14"/>
<circle cx="195.4" cy="697.3" r="1.1" fill="#2a0a14"/>
<circle cx="129.5" cy="697.3" r="1.1" fill="#2a0a14"/>
<circle cx="143.2" cy="697.3" r="1.1" fill="#2a0a14"/>
<circle cx="184" cy="697.3" r="1.1" fill="#2a0a14"/>
<circle cx="197.4" cy="697.3" r="1.1" fill="#2a0a14"/>
<circle cx="131.5" cy="697.3" r="1.1" fill="#2a0a14"/>
<circle cx="145.2" cy="697.3" r="1.1" fill="#2a0a14"/>
<circle cx="186" cy="697.3" r="1.1" fill="#2a0a14"/>
<circle cx="199.4" cy="697.3" r="1.1" fill="#2a0a14"/>
<circle cx="127.5" cy="752.5" r="1.0" fill="#0d2a48"/>
<circle cx="127.5" cy="758.2" r="1.0" fill="#0d2a48"/>
<circle cx="141" cy="707.1" r="1.0" fill="#0d2a48"/>
<circle cx="168.3" cy="710.7" r="1.5" fill="#111"/>
<circle cx="168.3" cy="758" r="1.0" fill="#3a0a14"/>
<circle cx="166.5" cy="762" r="1.0" fill="#3a0a14"/>
<circle cx="170" cy="762" r="1.0" fill="#3a0a14"/>
<circle cx="182" cy="762" r="1.1" fill="#0d3a14"/>
<circle cx="195.4" cy="718.9" r="1.0" fill="#0d3a14"/>
<circle cx="195.4" cy="739.5" r="1.0" fill="#0d3a14"/>
<path d="M127.5,687.5 L127.5,683.5 L182.5,683.5 L182.5,687.5" fill="none" stroke="#3c3c3c" stroke-width="1.1"/>
<text x="155.05" y="681" font-size="6.2" text-anchor="middle" fill="#333" font-weight="normal" stroke="#333" stroke-width="0.12">ns</text>
<path d="M141.5,676 L141.5,671.5 L195.5,671.5 L195.5,676" fill="none" stroke="#3c3c3c" stroke-width="1.1"/>
<text x="168.60000000000002" y="669" font-size="6.2" text-anchor="middle" fill="#333" font-weight="normal" stroke="#333" stroke-width="0.12">ns</text>
<text x="113.6" y="778.3" font-size="6.9" text-anchor="middle" fill="#222" font-weight="normal" textLength="9.5" lengthAdjust="spacingAndGlyphs" stroke="#222" stroke-width="0.15">WT</text>
<circle cx="126.3" cy="776.5" r="2.5" fill="none" stroke="#111" stroke-width="1.0"/>
<line x1="128.07" y1="774.73" x2="128.95" y2="773.85" stroke="#111" stroke-width="1.0" />
<path d="M130.72,772.08 L127.59,772.64 L130.16,775.21 Z" fill="#111"/>
<circle cx="140.79999999999998" cy="774.6" r="2.4" fill="none" stroke="#111" stroke-width="1.0"/>
<line x1="140.50" y1="777.00" x2="140.50" y2="780.20" stroke="#111" stroke-width="1.0" />
<line x1="139.10" y1="778.50" x2="142.50" y2="778.50" stroke="#111" stroke-width="1.15" />
<text x="168.3" y="778.3" font-size="6.9" text-anchor="middle" fill="#222" font-weight="normal" textLength="9.5" lengthAdjust="spacingAndGlyphs" stroke="#222" stroke-width="0.15">WT</text>
<circle cx="180.8" cy="776.5" r="2.5" fill="none" stroke="#111" stroke-width="1.0"/>
<line x1="182.57" y1="774.73" x2="183.45" y2="773.85" stroke="#111" stroke-width="1.0" />
<path d="M185.22,772.08 L182.09,772.64 L184.66,775.21 Z" fill="#111"/>
<circle cx="195.0" cy="774.6" r="2.4" fill="none" stroke="#111" stroke-width="1.0"/>
<line x1="195.50" y1="777.00" x2="195.50" y2="780.20" stroke="#111" stroke-width="1.0" />
<line x1="193.30" y1="778.50" x2="196.70" y2="778.50" stroke="#111" stroke-width="1.15" />
<text x="133" y="791" font-size="8.7" text-anchor="middle" fill="#1a1a1a" textLength="19.3" lengthAdjust="spacingAndGlyphs" font-weight="normal">G6b KO</text>
<line x1="123.50" y1="793.50" x2="143.00" y2="793.50" stroke="#222" stroke-width="1.1" />
<text x="133" y="801.5" font-size="8.2" text-anchor="middle" fill="#1a1a1a" textLength="17.6" lengthAdjust="spacingAndGlyphs" font-weight="normal">vehicle</text>
<text x="188.5" y="791" font-size="8.7" text-anchor="middle" fill="#1a1a1a" textLength="19.3" lengthAdjust="spacingAndGlyphs" font-weight="normal">G6b KO</text>
<line x1="175.50" y1="793.50" x2="201.50" y2="793.50" stroke="#222" stroke-width="1.1" />
<text x="188.5" y="801.5" font-size="8.2" text-anchor="middle" fill="#1a1a1a" textLength="26" lengthAdjust="spacingAndGlyphs" font-weight="normal">BI1002494</text>
<line x1="274.50" y1="671.25" x2="274.50" y2="765.60" stroke="#222" stroke-width="1.4" />
<line x1="270.80" y1="765.50" x2="274.50" y2="765.50" stroke="#222" stroke-width="1.0" />
<text x="267.3" y="767.376" font-size="6.6" text-anchor="end" fill="#333" font-weight="normal" stroke="#333" stroke-width="0.18">0</text>
<line x1="270.80" y1="742.50" x2="274.50" y2="742.50" stroke="#222" stroke-width="1.0" />
<text x="267.3" y="744.876" font-size="6.6" text-anchor="end" fill="#333" font-weight="normal" stroke="#333" stroke-width="0.18">200</text>
<line x1="270.80" y1="720.50" x2="274.50" y2="720.50" stroke="#222" stroke-width="1.0" />
<text x="267.3" y="722.376" font-size="6.6" text-anchor="end" fill="#333" font-weight="normal" stroke="#333" stroke-width="0.18">400</text>
<line x1="270.80" y1="697.50" x2="274.50" y2="697.50" stroke="#222" stroke-width="1.0" />
<text x="267.3" y="699.376" font-size="6.6" text-anchor="end" fill="#333" font-weight="normal" stroke="#333" stroke-width="0.18">600</text>
<line x1="270.80" y1="674.50" x2="274.50" y2="674.50" stroke="#222" stroke-width="1.0" />
<text x="267.3" y="676.626" font-size="6.6" text-anchor="end" fill="#333" font-weight="normal" stroke="#333" stroke-width="0.18">800</text>
<text transform="translate(248.2,718.4) rotate(-90)" x="0" y="2.59" font-size="7.4" text-anchor="middle" fill="#2a2a2a" textLength="45" lengthAdjust="spacingAndGlyphs" font-weight="bold" stroke="#2a2a2a" stroke-width="0.12">Blood loss (&#956;l/ml)</text>
<rect x="277.2" y="764" width="8.60" height="1.00" fill="#cf1136" />
<rect x="277.55" y="764.35" width="7.90" height="0.65" fill="none" stroke="#000" stroke-opacity="0.22" stroke-width="0.7"/>
<rect x="290.2" y="750.9" width="8.60" height="14.10" fill="#1b5b98" />
<rect x="290.55" y="751.25" width="7.90" height="13.75" fill="none" stroke="#000" stroke-opacity="0.22" stroke-width="0.7"/>
<line x1="294.50" y1="746.20" x2="294.50" y2="751.40" stroke="#333" stroke-width="1.0" />
<line x1="292.75" y1="746.50" x2="296.25" y2="746.50" stroke="#333" stroke-width="1.0" />
<line x1="294.50" y1="750.90" x2="294.50" y2="755.00" stroke="#333" stroke-width="1.0" />
<line x1="292.75" y1="755.50" x2="296.25" y2="755.50" stroke="#333" stroke-width="1.0" />
<rect x="303.2" y="733.7" width="8.60" height="31.30" fill="#1b5b98" />
<rect x="303.55" y="734.05" width="7.90" height="30.95" fill="none" stroke="#000" stroke-opacity="0.22" stroke-width="0.7"/>
<line x1="307.50" y1="724.40" x2="307.50" y2="734.20" stroke="#333" stroke-width="1.0" />
<line x1="305.75" y1="724.50" x2="309.25" y2="724.50" stroke="#333" stroke-width="1.0" />
<line x1="307.50" y1="733.70" x2="307.50" y2="743.00" stroke="#333" stroke-width="1.0" />
<line x1="305.75" y1="743.50" x2="309.25" y2="743.50" stroke="#333" stroke-width="1.0" />
<rect x="329.09999999999997" y="764" width="8.60" height="1.00" fill="#cf1136" />
<rect x="329.45" y="764.35" width="7.90" height="0.65" fill="none" stroke="#000" stroke-opacity="0.22" stroke-width="0.7"/>
<rect x="342.09999999999997" y="736.9" width="8.60" height="28.10" fill="#3db54a" />
<rect x="342.45" y="737.25" width="7.90" height="27.75" fill="none" stroke="#000" stroke-opacity="0.22" stroke-width="0.7"/>
<line x1="346.50" y1="730.50" x2="346.50" y2="737.40" stroke="#333" stroke-width="1.0" />
<line x1="344.65" y1="730.50" x2="348.15" y2="730.50" stroke="#333" stroke-width="1.0" />
<line x1="346.50" y1="736.90" x2="346.50" y2="743.70" stroke="#333" stroke-width="1.0" />
<line x1="344.65" y1="743.50" x2="348.15" y2="743.50" stroke="#333" stroke-width="1.0" />
<rect x="355.09999999999997" y="732.7" width="8.60" height="32.30" fill="#3db54a" />
<rect x="355.45" y="733.05" width="7.90" height="31.95" fill="none" stroke="#000" stroke-opacity="0.22" stroke-width="0.7"/>
<line x1="359.50" y1="724.20" x2="359.50" y2="733.20" stroke="#333" stroke-width="1.0" />
<line x1="357.65" y1="724.50" x2="361.15" y2="724.50" stroke="#333" stroke-width="1.0" />
<line x1="359.50" y1="732.70" x2="359.50" y2="741.00" stroke="#333" stroke-width="1.0" />
<line x1="357.65" y1="741.50" x2="361.15" y2="741.50" stroke="#333" stroke-width="1.0" />
<path d="M277,765 L277.5,763 L279,762.5 L279.3,761 L282.3,761 L282.6,762.2 L285.8,762.3 L285.8,765 Z" fill="#262026"/>
<path d="M329.2,765 L329.6,763 L332,762.8 L332.4,761.3 L335,761.2 L335.2,759 L337.8,759 L337.8,765 Z" fill="#221a26"/>
<circle cx="291.4" cy="742.5" r="1.6" fill="#111"/>
<circle cx="294.5" cy="738.5" r="1.6" fill="#111"/>
<circle cx="297.6" cy="741.2" r="1.6" fill="#111"/>
<circle cx="294.1" cy="755.9" r="1.6" fill="#111"/>
<circle cx="297.3" cy="755.9" r="1.6" fill="#111"/>
<path d="M307.6,686.20 L309.40,689.35 L305.80,689.35 Z" fill="#111"/>
<path d="M307.6,719.50 L309.40,722.65 L305.80,722.65 Z" fill="#111"/>
<circle cx="307.6" cy="728.3" r="1.1" fill="#111"/>
<path d="M307.6,738.68 L308.92,740.99 L306.28,740.99 Z" fill="#0d2a48"/>
<path d="M307.6,748.68 L308.92,750.99 L306.28,750.99 Z" fill="#0d2a48"/>
<path d="M307.6,756.68 L308.92,758.99 L306.28,758.99 Z" fill="#0d2a48"/>
<circle cx="343.2" cy="716.6" r="1.6" fill="#111"/>
<circle cx="349.6" cy="719.3" r="1.6" fill="#111"/>
<circle cx="346.4" cy="726.7" r="1.6" fill="#111"/>
<circle cx="343.8" cy="737.7" r="1.6" fill="#111"/>
<circle cx="349.1" cy="737.7" r="1.6" fill="#111"/>
<circle cx="346.4" cy="752.8" r="1.6" fill="#111"/>
<circle cx="346.4" cy="764.3" r="1.6" fill="#111"/>
<path d="M359.4,692.60 L361.20,695.75 L357.60,695.75 Z" fill="#111"/>
<path d="M359.4,715.80 L361.20,718.95 L357.60,718.95 Z" fill="#111"/>
<path d="M359.4,729.20 L361.20,732.35 L357.60,732.35 Z" fill="#111"/>
<path d="M359.4,737.60 L361.20,740.75 L357.60,740.75 Z" fill="#111"/>
<path d="M359.4,742.20 L361.20,745.35 L357.60,745.35 Z" fill="#111"/>
<path d="M359.4,747.20 L361.20,750.35 L357.60,750.35 Z" fill="#111"/>
<path d="M359.4,757.70 L361.20,760.85 L357.60,760.85 Z" fill="#111"/>
<line x1="273.90" y1="765.00" x2="366.70" y2="765.00" stroke="#222" stroke-width="1.4" />
<line x1="281.50" y1="765.00" x2="281.50" y2="768.00" stroke="#222" stroke-width="1.0" />
<line x1="294.50" y1="765.00" x2="294.50" y2="768.00" stroke="#222" stroke-width="1.0" />
<line x1="307.50" y1="765.00" x2="307.50" y2="768.00" stroke="#222" stroke-width="1.0" />
<line x1="333.50" y1="765.00" x2="333.50" y2="768.00" stroke="#222" stroke-width="1.0" />
<line x1="346.50" y1="765.00" x2="346.50" y2="768.00" stroke="#222" stroke-width="1.0" />
<line x1="359.50" y1="765.00" x2="359.50" y2="768.00" stroke="#222" stroke-width="1.0" />
<path d="M294.5,697 L294.5,683.5 L346.5,683.5 L346.5,697" fill="none" stroke="#3c3c3c" stroke-width="1.1"/>
<text x="320.75" y="681" font-size="6.2" text-anchor="middle" fill="#333" font-weight="normal" stroke="#333" stroke-width="0.12">ns</text>
<path d="M307.5,678.3 L307.5,665.5 L359.5,665.5 L359.5,678.3" fill="none" stroke="#3c3c3c" stroke-width="1.1"/>
<text x="333.8" y="663.3" font-size="6.2" text-anchor="middle" fill="#333" font-weight="normal" stroke="#333" stroke-width="0.12">ns</text>
<text x="281.5" y="777.3" font-size="6.9" text-anchor="middle" fill="#222" font-weight="normal" textLength="9.5" lengthAdjust="spacingAndGlyphs" stroke="#222" stroke-width="0.15">WT</text>
<circle cx="293.3" cy="775.5" r="2.5" fill="none" stroke="#111" stroke-width="1.0"/>
<line x1="295.07" y1="773.73" x2="295.95" y2="772.85" stroke="#111" stroke-width="1.0" />
<path d="M297.72,771.08 L294.59,771.64 L297.16,774.21 Z" fill="#111"/>
<circle cx="307.1" cy="773.6" r="2.4" fill="none" stroke="#111" stroke-width="1.0"/>
<line x1="307.50" y1="776.00" x2="307.50" y2="779.20" stroke="#111" stroke-width="1.0" />
<line x1="305.40" y1="777.50" x2="308.80" y2="777.50" stroke="#111" stroke-width="1.15" />
<text x="333.4" y="777.3" font-size="6.9" text-anchor="middle" fill="#222" font-weight="normal" textLength="9.5" lengthAdjust="spacingAndGlyphs" stroke="#222" stroke-width="0.15">WT</text>
<circle cx="345.2" cy="775.5" r="2.5" fill="none" stroke="#111" stroke-width="1.0"/>
<line x1="346.97" y1="773.73" x2="347.85" y2="772.85" stroke="#111" stroke-width="1.0" />
<path d="M349.62,771.08 L346.49,771.64 L349.06,774.21 Z" fill="#111"/>
<circle cx="359.0" cy="773.6" r="2.4" fill="none" stroke="#111" stroke-width="1.0"/>
<line x1="359.50" y1="776.00" x2="359.50" y2="779.20" stroke="#111" stroke-width="1.0" />
<line x1="357.30" y1="777.50" x2="360.70" y2="777.50" stroke="#111" stroke-width="1.15" />
<text x="300" y="791" font-size="8.7" text-anchor="middle" fill="#1a1a1a" textLength="19.3" lengthAdjust="spacingAndGlyphs" font-weight="normal">G6b KO</text>
<line x1="290.50" y1="793.50" x2="310.00" y2="793.50" stroke="#222" stroke-width="1.1" />
<text x="300" y="801.5" font-size="8.2" text-anchor="middle" fill="#1a1a1a" textLength="17.6" lengthAdjust="spacingAndGlyphs" font-weight="normal">vehicle</text>
<text x="352.3" y="791" font-size="8.7" text-anchor="middle" fill="#1a1a1a" textLength="19.3" lengthAdjust="spacingAndGlyphs" font-weight="normal">G6b KO</text>
<line x1="339.30" y1="793.50" x2="365.30" y2="793.50" stroke="#222" stroke-width="1.1" />
<text x="352.3" y="801.5" font-size="8.2" text-anchor="middle" fill="#1a1a1a" textLength="26" lengthAdjust="spacingAndGlyphs" font-weight="normal">BI1002494</text>
<text x="0.6" y="14.2" font-size="13.4" font-weight="bold" fill="#111">A</text>
<text x="370.1" y="14.2" font-size="13.4" font-weight="bold" fill="#111">C</text>
<text x="0.6" y="184.8" font-size="13.4" font-weight="bold" fill="#111">B</text>
<text x="370.1" y="184.8" font-size="13.4" font-weight="bold" fill="#111">D</text>
<text x="0.6" y="346.4" font-size="13.4" font-weight="bold" fill="#111">E</text>
<text x="366.6" y="345.6" font-size="13.4" font-weight="bold" fill="#111">G</text>
<text x="1.1" y="510" font-size="13.4" font-weight="bold" fill="#111">F</text>
<text x="367.1" y="509.6" font-size="13.4" font-weight="bold" fill="#111">H</text>
<text x="75.39999999999999" y="674.3" font-size="13.4" font-weight="bold" fill="#111">I</text>
<text x="239.1" y="668.8" font-size="13.4" font-weight="bold" fill="#111">J</text>
</svg>
</body></html>
